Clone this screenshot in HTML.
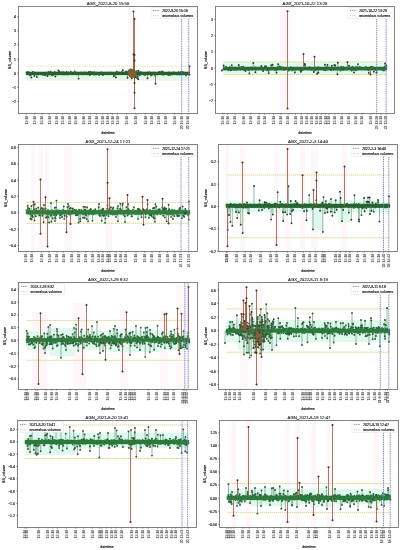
<!DOCTYPE html>
<html><head><meta charset="utf-8"><style>
html,body{margin:0;padding:0;background:#fff;width:403px;height:550px;overflow:hidden}
svg{display:block;will-change:transform}
.t{font-family:"Liberation Sans", sans-serif;font-size:3.5px;fill:#1a1a1a;stroke:#1a1a1a;stroke-width:0.16px}
.ti{font-family:"Liberation Sans", sans-serif;font-size:4.25px;fill:#222;stroke:#222;stroke-width:0.1px}
.th{stroke:#dcd68e;stroke-width:1px;stroke-dasharray:1.4 0.6;fill:none}
.bl{stroke:#7474c8;stroke-width:0.9px;stroke-dasharray:1.1 0.7;fill:none}
.xt{fill:#606060;stroke:#606060;stroke-width:0.14px}
.tk{stroke:#333;stroke-width:0.5px;fill:none}
</style></head><body>
<svg width="403" height="550" viewBox="0 0 403 550">
<rect width="403" height="550" fill="#fff"/>
<clipPath id="cp1"><rect x="18.5" y="6.5" width="179.0" height="107.0"/></clipPath>
<g clip-path="url(#cp1)">
<rect x="128" y="6.5" width="4.0" height="107.0" fill="#fef7fa"/>
<rect x="25.5" y="74.5" width="164.0" height="4.8" fill="#dff9ef"/>
<path d="M26.6 66.2H189.4" class="th" style="stroke:#ebe6b4"/>
<path d="M26.6 79.9H189.4" class="th" style="stroke:#ebe6b4"/>
<path d="M34.4 73.4V76M36.9 73.4V76.9M55.4 73.4V76.6M58.4 73.4V70.4M78.6 73.4V78.6M113.8 73.4V76.2M115.9 73.4V77.4M122.8 73.4V70.2M127.5 73.4V77.8M129.3 73.4V70.2M131.8 73.4V78.2M133.1 73.4V76.3M137.4 73.4V76.2M138.3 73.4V70.6M138.3 73.4V79.2M147.5 73.4V78.3M31.4 73.4V77.6M137 73.4V78" stroke="#4f8c5e" stroke-width="0.6" fill="none"/>
<rect x="25.8" y="71.70" width="164.3" height="3.4" fill="#28602e"/>
<path d="M26.6 72.4h0M27.1 73.7h0M27.5 72.3h0M27.9 73.3h0M28.4 72.4h0M28.8 72.4h0M29.2 74.6h0M29.6 74.2h0M30.1 75.5h0M30.5 73.2h0M30.9 73.5h0M31.4 73.5h0M31.8 73.6h0M32.2 74h0M32.7 72h0M33.1 74h0M33.5 72.2h0M33.9 73.4h0M34.8 73.4h0M35.2 73.2h0M35.7 73.9h0M36.1 73.5h0M36.5 72.6h0M37.4 74.2h0M37.8 72.9h0M38.2 74.4h0M38.7 73.9h0M39.1 74h0M39.5 73.8h0M40 73.8h0M40.4 73.8h0M40.8 73.5h0M41.2 72.9h0M41.7 73.9h0M42.1 74.6h0M42.5 74h0M43 74h0M43.4 74.8h0M43.8 73.1h0M44.2 73.6h0M44.7 74.2h0M45.1 75.3h0M45.5 74.8h0M46 73.5h0M46.4 72.7h0M46.8 74.3h0M47.3 74h0M47.7 72.8h0M48.1 74h0M48.5 72h0M49 72.7h0M49.4 74.6h0M49.8 72.6h0M50.3 73.3h0M50.7 71.5h0M51.1 74.2h0M51.5 72.7h0M52 75.4h0M52.4 73.9h0M52.8 73.3h0M53.3 74.9h0M53.7 74h0M54.1 74.5h0M54.6 71.9h0M55 72.8h0M55.8 73.1h0M56.3 73.5h0M56.7 73h0M57.1 73.2h0M57.6 74.6h0M58 73.3h0M58.8 72.8h0M59.3 71.4h0M59.7 72.1h0M60.1 73.5h0M60.6 74.3h0M61 73.9h0M61.4 73.3h0M61.8 72.2h0M62.3 72.7h0M62.7 74.4h0M63.1 72.2h0M63.6 74.1h0M64 72.8h0M64.4 72.8h0M64.9 74.4h0M65.3 74h0M65.7 73.3h0M66.1 72.6h0M66.6 72h0M67 74h0M67.4 74.5h0M67.9 73.6h0M68.3 73.1h0M68.7 72.5h0M69.1 73.4h0M69.6 73.5h0M70 73.5h0M70.4 73.9h0M70.9 71.8h0M71.3 74h0M71.7 73.7h0M72.2 74.2h0M72.6 74h0M73 72.9h0M73.4 74h0M73.9 74.1h0M74.3 72.9h0M74.7 71.5h0M75.2 72.8h0M75.6 73.6h0M76 72.7h0M76.4 72.7h0M76.9 74.3h0M77.3 73.3h0M77.7 73.6h0M78.2 73.2h0M79 73.2h0M79.5 73.5h0M79.9 73.6h0M80.3 73.6h0M80.7 72.6h0M81.2 72.5h0M81.6 73.2h0M82 72.9h0M82.5 74.3h0M82.9 73.5h0M83.3 73.3h0M83.7 74.1h0M84.2 72.4h0M84.6 72.5h0M85 73.7h0M85.5 73.2h0M85.9 74h0M86.3 74h0M86.7 72.7h0M87.2 74.1h0M87.6 74.2h0M88 73.1h0M88.5 73.1h0M88.9 71.9h0M89.3 73.8h0M89.8 75.1h0M90.2 72h0M90.6 73.1h0M91 73.9h0M91.5 72.8h0M91.9 72.1h0M92.3 73h0M92.8 73.5h0M93.2 73.1h0M93.6 72.7h0M94 74.6h0M94.5 72.1h0M94.9 73.3h0M95.3 74.3h0M95.8 73.1h0M96.2 73.6h0M96.6 74.4h0M97.1 72.8h0M97.5 72.7h0M97.9 73.1h0M98.3 74.1h0M98.8 73.8h0M99.2 74.9h0M99.6 72.9h0M100.1 73.2h0M100.5 73.3h0M100.9 73.3h0M101.3 72.2h0M101.8 74.2h0M102.2 73.3h0M102.6 73.1h0M103.1 75.1h0M103.5 72.9h0M103.9 74h0M104.4 74h0M104.8 72.7h0M105.2 73.5h0M105.6 73.8h0M106.1 73.2h0M106.5 73.6h0M106.9 73.9h0M107.4 72.7h0M107.8 74.3h0M108.2 74.1h0M108.6 74.1h0M109.1 72.6h0M109.5 73.2h0M109.9 72.9h0M110.4 73.3h0M110.8 72.8h0M111.2 72.6h0M111.6 73.8h0M112.1 72.9h0M112.5 74h0M112.9 73h0M113.4 74h0M114.2 73.5h0M114.7 74.7h0M115.1 73.8h0M115.5 72.7h0M116.4 72.7h0M116.8 71.8h0M117.2 72.1h0M117.7 73.4h0M118.1 73.5h0M118.5 73.7h0M118.9 72.5h0M119.4 73.1h0M119.8 73.6h0M120.2 73.9h0M120.7 73.7h0M121.1 73.2h0M121.5 72.1h0M122 73.7h0M122.4 72.6h0M123.2 73h0M123.7 73.3h0M124.1 72.6h0M124.5 73.3h0M125 73.4h0M125.4 73h0M125.8 71.9h0M126.2 71.5h0M126.7 72h0M127.1 73.2h0M128 74.2h0M128.4 71.5h0M128.8 72.2h0M129.7 73.3h0M130.1 72.6h0M130.5 75.3h0M131 73.5h0M131.4 73.9h0M132.3 72h0M132.7 71.2h0M133.5 73.4h0M134 73.8h0M134.4 73.3h0M134.8 73.3h0M135.3 75.4h0M135.7 72.8h0M136.1 74h0M136.5 71.1h0M137 72.7h0M137.8 73.3h0M138.7 71.5h0M139.1 74.6h0M139.6 75.3h0M140 72.9h0M140.4 73.2h0M140.8 72.3h0M141.3 73.2h0M141.7 72.8h0M142.1 72.6h0M142.6 73.4h0M143 73.5h0M143.4 74.1h0M143.8 74.5h0M144.3 73.4h0M144.7 73.1h0M145.1 75h0M145.6 74.2h0M146 74h0M146.4 73.3h0M146.9 73.2h0M147.3 72.5h0M147.7 73.1h0M148.1 73.2h0M148.6 73.5h0M149 73.7h0M149.4 72.3h0M149.9 73.8h0M150.3 72.7h0M150.7 73h0M151.1 75.4h0M151.6 73.4h0M152 74.7h0M152.4 74.5h0M152.9 73h0M153.3 73.9h0M153.7 72.4h0M154.2 72.8h0M154.6 73.4h0M155 75.6h0M155.4 73.7h0M155.9 73.5h0M156.3 73.1h0M156.7 73.1h0M157.2 74.4h0M157.6 74h0M158 72.8h0M158.4 74.1h0M158.9 73.4h0M159.3 71.9h0M159.7 73.8h0M160.2 72.4h0M160.6 72.9h0M161 73.7h0M161.4 72h0M161.9 71.4h0M162.3 73.4h0M162.7 71.6h0M163.2 74.7h0M163.6 74.3h0M164 72.6h0M164.5 73h0M164.9 73.5h0M165.3 73.1h0M165.7 74h0M166.2 73.7h0M166.6 73.3h0M167 73.8h0M167.5 73.1h0M167.9 73.7h0M168.3 75.1h0M168.7 72.5h0M169.2 73.6h0M169.6 72.8h0M170 75h0M170.5 72.7h0M170.9 72.9h0M171.3 74h0M171.8 73.7h0M172.2 74.4h0M172.6 73.9h0M173 72.5h0M173.5 73.9h0M173.9 73h0M174.3 72.4h0M174.8 73.1h0M175.2 73.5h0M175.6 73.1h0M176 73.7h0M176.5 73.6h0M176.9 74.4h0M177.3 74h0M177.8 73h0M178.2 72.9h0M178.6 72.1h0M179.1 73.2h0M179.5 74.6h0M179.9 73.2h0M180.3 73.2h0M180.8 72.2h0M181.2 73.9h0M181.6 72.3h0M182.1 74.2h0M182.5 72h0M182.9 72.2h0M183.3 73.2h0M183.8 73h0M184.2 73.6h0M184.6 73.1h0M185.1 73.7h0M185.5 72.8h0M185.9 75.4h0M186.4 74.3h0M186.8 74.2h0M187.2 74.2h0M187.6 73.7h0M188.1 73.8h0M188.5 73.5h0M188.9 73.5h0M189.4 74.7h0" stroke="#28602e" stroke-width="1.90" stroke-linecap="round" fill="none"/>
<path d="M34.4 76h0M36.9 76.9h0M55.4 76.6h0M58.4 70.4h0M78.6 78.6h0M113.8 76.2h0M115.9 77.4h0M122.8 70.2h0M127.5 77.8h0M129.3 70.2h0M131.8 78.2h0M133.1 76.3h0M137.4 76.2h0M138.3 70.6h0M138.3 79.2h0M147.5 78.3h0M31.4 77.6h0M137 78h0" stroke="#263d2b" stroke-width="1.90" stroke-linecap="round" fill="none"/>
<path d="M133.5 73.4V11.5M133.5 73.4V54.4M134.5 73.4V18.9M134.5 73.4V55M134.5 73.4V60.6M134.5 73.4V108.3M134.5 73.4V92.8M134.5 73.4V82.9M132.5 73.4V76.5M130.5 73.4V69.5M135.5 73.4V77M155.5 73.4V83.8M47.5 73.4V76M189.5 73.4V66.2" stroke="#985540" stroke-width="0.8" fill="none"/>
<path d="M133.5 11.5h0M133.5 54.4h0M134.5 18.9h0M134.5 55h0M134.5 60.6h0M134.5 108.3h0M134.5 92.8h0M134.5 82.9h0M132.5 76.5h0M130.5 69.5h0M135.5 77h0M155.5 83.8h0M47.5 76h0M189.5 66.2h0" stroke="#4a2a1e" stroke-width="2.0" stroke-linecap="round" fill="none"/>
<ellipse cx="132.2" cy="73.4" rx="4.3" ry="4.6" fill="#7a6038"/>
<ellipse cx="132.6" cy="73.4" rx="2.5" ry="3.6" fill="#8a5a30"/>
<path d="M181.7 6.5V113.5" class="bl"/>
<path d="M188.7 6.5V113.5" class="bl"/>
</g>
<rect x="18.5" y="6.5" width="179.0" height="107.0" fill="none" stroke="#777" stroke-width="0.9"/>
<path d="M17.2 16.6H18.5" class="tk"/><text x="16.0" y="18.0" text-anchor="end" class="t">4</text>
<path d="M17.2 30.8H18.5" class="tk"/><text x="16.0" y="32.1" text-anchor="end" class="t">3</text>
<path d="M17.2 44.9H18.5" class="tk"/><text x="16.0" y="46.3" text-anchor="end" class="t">2</text>
<path d="M17.2 59.1H18.5" class="tk"/><text x="16.0" y="60.5" text-anchor="end" class="t">1</text>
<path d="M17.2 73.2H18.5" class="tk"/><text x="16.0" y="74.6" text-anchor="end" class="t">0</text>
<path d="M17.2 87.4H18.5" class="tk"/><text x="16.0" y="88.8" text-anchor="end" class="t">−1</text>
<path d="M17.2 101.5H18.5" class="tk"/><text x="16.0" y="102.9" text-anchor="end" class="t">−2</text>
<path d="M26.3 113.5v1.3" class="tk"/><text transform="translate(27.6,115.7) rotate(-90)" text-anchor="end" class="t xt">15:18</text>
<path d="M34.8 113.5v1.3" class="tk"/><text transform="translate(36.0,115.7) rotate(-90)" text-anchor="end" class="t xt">15:18</text>
<path d="M41.9 113.5v1.3" class="tk"/><text transform="translate(43.1,115.7) rotate(-90)" text-anchor="end" class="t xt">15:18</text>
<path d="M49.2 113.5v1.3" class="tk"/><text transform="translate(50.5,115.7) rotate(-90)" text-anchor="end" class="t xt">15:18</text>
<path d="M56.3 113.5v1.3" class="tk"/><text transform="translate(57.5,115.7) rotate(-90)" text-anchor="end" class="t xt">15:18</text>
<path d="M62.6 113.5v1.3" class="tk"/><text transform="translate(63.9,115.7) rotate(-90)" text-anchor="end" class="t xt">15:18</text>
<path d="M69.2 113.5v1.3" class="tk"/><text transform="translate(70.5,115.7) rotate(-90)" text-anchor="end" class="t xt">15:18</text>
<path d="M75.6 113.5v1.3" class="tk"/><text transform="translate(76.8,115.7) rotate(-90)" text-anchor="end" class="t xt">15:18</text>
<path d="M83.4 113.5v1.3" class="tk"/><text transform="translate(84.7,115.7) rotate(-90)" text-anchor="end" class="t xt">15:18</text>
<path d="M90 113.5v1.3" class="tk"/><text transform="translate(91.2,115.7) rotate(-90)" text-anchor="end" class="t xt">15:18</text>
<path d="M96.4 113.5v1.3" class="tk"/><text transform="translate(97.7,115.7) rotate(-90)" text-anchor="end" class="t xt">15:18</text>
<path d="M102.6 113.5v1.3" class="tk"/><text transform="translate(103.8,115.7) rotate(-90)" text-anchor="end" class="t xt">15:18</text>
<path d="M107.4 113.5v1.3" class="tk"/><text transform="translate(108.7,115.7) rotate(-90)" text-anchor="end" class="t xt">15:18</text>
<path d="M112.4 113.5v1.3" class="tk"/><text transform="translate(113.7,115.7) rotate(-90)" text-anchor="end" class="t xt">15:18</text>
<path d="M117.4 113.5v1.3" class="tk"/><text transform="translate(118.7,115.7) rotate(-90)" text-anchor="end" class="t xt">15:18</text>
<path d="M126.5 113.5v1.3" class="tk"/><text transform="translate(127.8,115.7) rotate(-90)" text-anchor="end" class="t xt">15:18</text>
<path d="M136 113.5v1.3" class="tk"/><text transform="translate(137.2,115.7) rotate(-90)" text-anchor="end" class="t xt">15:18</text>
<path d="M145.4 113.5v1.3" class="tk"/><text transform="translate(146.7,115.7) rotate(-90)" text-anchor="end" class="t xt">15:18</text>
<path d="M152.1 113.5v1.3" class="tk"/><text transform="translate(153.3,115.7) rotate(-90)" text-anchor="end" class="t xt">15:18</text>
<path d="M158.8 113.5v1.3" class="tk"/><text transform="translate(160.1,115.7) rotate(-90)" text-anchor="end" class="t xt">15:18</text>
<path d="M165.3 113.5v1.3" class="tk"/><text transform="translate(166.6,115.7) rotate(-90)" text-anchor="end" class="t xt">15:18</text>
<path d="M174.4 113.5v1.3" class="tk"/><text transform="translate(175.7,115.7) rotate(-90)" text-anchor="end" class="t xt">15:18</text>
<path d="M181.4 113.5v1.3" class="tk"/><text transform="translate(182.7,115.7) rotate(-90)" text-anchor="end" class="t xt">20 15:16</text>
<path d="M188.1 113.5v1.3" class="tk"/><text transform="translate(189.3,115.7) rotate(-90)" text-anchor="end" class="t xt">20 15:18</text>
<text x="108.0" y="4.6" text-anchor="middle" class="ti">AGX_2022-8-20 15:56</text>
<text x="108.0" y="133.5" text-anchor="middle" class="t">datetime</text>
<text transform="translate(10.6,60.0) rotate(-90)" text-anchor="middle" class="t">BS_volume</text>
<rect x="150.9" y="7.5" width="45.3" height="10.9" fill="#fff" fill-opacity="0.95" stroke="#d8d8d8" stroke-width="0.4" rx="0.8"/>
<path d="M152.9 10.4h6.2" class="bl"/><path d="M152.9 15.7h6.2" class="th"/>
<text x="162.2" y="11.7" class="t">2022-8-20 15:16</text>
<text x="162.2" y="16.9" class="t">anomalous volumes</text>
<clipPath id="cp2"><rect x="215.5" y="6.5" width="179.0" height="107.0"/></clipPath>
<g clip-path="url(#cp2)">
<rect x="280" y="6.5" width="10.3" height="107.0" fill="#fef7fa"/>
<rect x="223" y="62.3" width="163.5" height="11.9" fill="#dff9ef"/>
<path d="M223.6 61.9H386.4" class="th" style="stroke:#dcd68e"/>
<path d="M223.6 74.5H386.4" class="th" style="stroke:#dcd68e"/>
<path d="M223.6 68.6V65.5M231.8 68.6V65.1M238.7 68.6V65M245.5 68.6V71.1M249.4 68.6V73.4M253.3 68.6V63M255.4 68.6V72.2M261.4 68.6V66M263.1 68.6V71M268.7 68.6V73.1M271.3 68.6V65.3M272.6 68.6V64.8M276.5 68.6V72.7M278.2 68.6V64.3M294.9 68.6V72.4M300.9 68.6V71.7M304.8 68.6V63.9M313.8 68.6V72M317.2 68.6V73.7M327.5 68.6V64.9M331.8 68.6V65.8M334.4 68.6V65M335.3 68.6V65.4M337.4 68.6V74.2M349 68.6V65.8M358 68.6V64.1M368.8 68.6V72.9M373.9 68.6V71.7M385.1 68.6V63.5M386.4 68.6V65.4M354 68.6V72.6M325 68.6V64.8M266 68.6V66.5M337.8 68.6V62.8M318.4 68.6V72.6M305 68.6V65M222 68.6V70.5" stroke="#4f8c5e" stroke-width="0.6" fill="none"/>
<rect x="222.8" y="66.80" width="164.3" height="3.6" fill="#2a6e34"/>
<path d="M224.1 68.8h0M224.5 69.1h0M224.9 69.2h0M225.4 68.1h0M225.8 66.7h0M226.2 67.2h0M226.6 68.5h0M227.1 68.3h0M227.5 68.4h0M227.9 69.2h0M228.4 70.2h0M228.8 67.9h0M229.2 68.2h0M229.7 67.3h0M230.1 67.9h0M230.5 70.2h0M230.9 69.8h0M231.4 70.1h0M232.2 67.4h0M232.7 68.6h0M233.1 69.3h0M233.5 68.2h0M233.9 68.2h0M234.4 69.9h0M234.8 68h0M235.2 67.5h0M235.7 67.9h0M236.1 69.4h0M236.5 69.7h0M237 68.2h0M237.4 69.1h0M237.8 68.2h0M238.2 68.2h0M239.1 67.2h0M239.5 68.5h0M240 68.3h0M240.4 69.6h0M240.8 68.1h0M241.2 67.3h0M241.7 68.4h0M242.1 67h0M242.5 68.9h0M243 69h0M243.4 66.8h0M243.8 69.8h0M244.3 68.7h0M244.7 69.3h0M245.1 70h0M246 69.3h0M246.4 68.8h0M246.8 69.4h0M247.3 68.5h0M247.7 69h0M248.1 67.7h0M248.5 70h0M249 69.5h0M249.8 68.7h0M250.3 68.4h0M250.7 67.5h0M251.1 68.6h0M251.6 69h0M252 69.7h0M252.4 67.7h0M252.8 68.4h0M253.7 68.6h0M254.1 69h0M254.6 68h0M255 67.5h0M255.8 68.1h0M256.3 69.6h0M256.7 67.8h0M257.1 68h0M257.6 68.5h0M258 69.2h0M258.4 67.6h0M258.8 69.2h0M259.3 68.5h0M259.7 68.7h0M260.1 67.6h0M260.6 68.8h0M261 68.9h0M261.9 68.3h0M262.3 69.5h0M262.7 67.6h0M263.6 68.9h0M264 68.8h0M264.4 68.2h0M264.9 66.2h0M265.3 68.5h0M265.7 67.4h0M266.1 67.5h0M266.6 70.1h0M267 68h0M267.4 68.1h0M267.9 67.9h0M268.3 70.7h0M269.2 69.3h0M269.6 69.1h0M270 69.6h0M270.4 68.9h0M270.9 67.8h0M271.7 67.9h0M272.2 68.5h0M273 68.8h0M273.4 68.2h0M273.9 68.2h0M274.3 68.6h0M274.7 69.7h0M275.2 67.9h0M275.6 70.1h0M276 69.1h0M276.9 69.2h0M277.3 69.5h0M277.7 67.2h0M278.6 68.2h0M279 67.7h0M279.5 66.4h0M279.9 68h0M280.3 68.4h0M280.7 66.9h0M281.2 68h0M281.6 68.7h0M282 67.9h0M282.5 67.4h0M282.9 68h0M283.3 67.5h0M283.7 70h0M284.2 68h0M284.6 68.3h0M285 68.6h0M285.5 68.3h0M285.9 68.7h0M286.3 68.1h0M286.8 68.7h0M287.2 69.1h0M287.6 68.6h0M288 68.7h0M288.5 69.9h0M288.9 70.6h0M289.3 69.4h0M289.8 69.2h0M290.2 69.6h0M290.6 69.2h0M291 67.1h0M291.5 69.1h0M291.9 69.4h0M292.3 70.4h0M292.8 70.3h0M293.2 69.4h0M293.6 68h0M294.1 68h0M294.5 68.8h0M295.3 68.4h0M295.8 69.7h0M296.2 68.1h0M296.6 68h0M297.1 68.5h0M297.5 67.7h0M297.9 68.9h0M298.3 69.2h0M298.8 67.8h0M299.2 68.8h0M299.6 68h0M300.1 70.4h0M300.5 69.1h0M301.4 68.5h0M301.8 70.3h0M302.2 68.1h0M302.6 70h0M303.1 69.6h0M303.5 69.2h0M303.9 68.3h0M304.4 68.9h0M305.2 69h0M305.6 67.5h0M306.1 69.2h0M306.5 68.7h0M306.9 68.8h0M307.4 68.2h0M307.8 68.7h0M308.2 69.5h0M308.6 68.2h0M309.1 68h0M309.5 67.1h0M309.9 69.3h0M310.4 69.2h0M310.8 69.2h0M311.2 67.6h0M311.7 69.8h0M312.1 68.3h0M312.5 69.5h0M312.9 68.7h0M313.4 69.2h0M314.2 68.2h0M314.7 68.4h0M315.1 70.2h0M315.5 68.6h0M315.9 67.5h0M316.4 68.7h0M316.8 67.9h0M317.7 69h0M318.1 67.5h0M318.5 68.2h0M319 67.4h0M319.4 67.7h0M319.8 68.4h0M320.2 68.5h0M320.7 68.3h0M321.1 68.9h0M321.5 69h0M322 68.9h0M322.4 68h0M322.8 69.1h0M323.2 68.2h0M323.7 69.9h0M324.1 68.2h0M324.5 69.3h0M325 68.4h0M325.4 70.3h0M325.8 70.1h0M326.3 69.3h0M326.7 67.2h0M327.1 69.5h0M328 68.8h0M328.4 68.2h0M328.8 68.8h0M329.3 67.4h0M329.7 68.7h0M330.1 67.9h0M330.5 69.5h0M331 70.3h0M331.4 67.9h0M332.3 67.9h0M332.7 67.8h0M333.1 69.2h0M333.5 69.9h0M334 67.7h0M334.8 68.6h0M335.7 69.6h0M336.1 67.7h0M336.6 69.2h0M337 68.8h0M337.8 69.4h0M338.3 68.6h0M338.7 67.4h0M339.1 68.9h0M339.6 68.9h0M340 67.9h0M340.4 70.5h0M340.8 68.5h0M341.3 66.6h0M341.7 69h0M342.1 69.7h0M342.6 68.8h0M343 69.9h0M343.4 66.9h0M343.9 69.2h0M344.3 68.7h0M344.7 69.5h0M345.1 68.3h0M345.6 69.3h0M346 67.6h0M346.4 67.6h0M346.9 69.3h0M347.3 69.3h0M347.7 68.2h0M348.1 68.5h0M348.6 68.8h0M349.4 68.1h0M349.9 67.5h0M350.3 67.9h0M350.7 69.4h0M351.2 68.7h0M351.6 70.5h0M352 68.4h0M352.4 66.8h0M352.9 67.9h0M353.3 69.7h0M353.7 67.8h0M354.2 69.6h0M354.6 69.4h0M355 68.1h0M355.4 67.1h0M355.9 70.2h0M356.3 68.3h0M356.7 67.5h0M357.2 67.2h0M357.6 69.3h0M358.4 69.3h0M358.9 68h0M359.3 68.9h0M359.7 67h0M360.2 68.7h0M360.6 67.8h0M361 67.7h0M361.5 69.2h0M361.9 68.5h0M362.3 68.3h0M362.7 67.6h0M363.2 68.7h0M363.6 68.4h0M364 68.8h0M364.5 68.2h0M364.9 68.1h0M365.3 69.5h0M365.7 67.3h0M366.2 67.3h0M366.6 67.8h0M367 68.9h0M367.5 69.4h0M367.9 67.8h0M368.3 70h0M369.2 67.7h0M369.6 69.3h0M370 69h0M370.5 67.3h0M370.9 68.8h0M371.3 66.6h0M371.8 68.5h0M372.2 66.9h0M372.6 68.6h0M373 67.6h0M373.5 67.5h0M374.3 68.3h0M374.8 68h0M375.2 69.1h0M375.6 69.6h0M376.1 67.8h0M376.5 70.1h0M376.9 67.9h0M377.3 69.4h0M377.8 68.6h0M378.2 68.3h0M378.6 69h0M379.1 68.1h0M379.5 67.6h0M379.9 69h0M380.3 68.1h0M380.8 68.6h0M381.2 68.6h0M381.6 69h0M382.1 68.5h0M382.5 69.9h0M382.9 69.2h0M383.4 69.6h0M383.8 70.6h0M384.2 70h0M384.6 66.8h0M385.5 68h0M385.9 68.6h0" stroke="#2a6e34" stroke-width="1.90" stroke-linecap="round" fill="none"/>
<path d="M223.6 65.5h0M231.8 65.1h0M238.7 65h0M245.5 71.1h0M249.4 73.4h0M253.3 63h0M255.4 72.2h0M261.4 66h0M263.1 71h0M268.7 73.1h0M271.3 65.3h0M272.6 64.8h0M276.5 72.7h0M278.2 64.3h0M294.9 72.4h0M300.9 71.7h0M304.8 63.9h0M313.8 72h0M317.2 73.7h0M327.5 64.9h0M331.8 65.8h0M334.4 65h0M335.3 65.4h0M337.4 74.2h0M349 65.8h0M358 64.1h0M368.8 72.9h0M373.9 71.7h0M385.1 63.5h0M386.4 65.4h0M354 72.6h0M325 64.8h0M266 66.5h0M337.8 62.8h0M318.4 72.6h0M305 65h0M222 70.5h0" stroke="#263d2b" stroke-width="1.90" stroke-linecap="round" fill="none"/>
<path d="M287.5 68.6V11.3M287.5 68.6V108.4M303.5 68.6V54.1M314.5 68.6V56.8M347.5 68.6V62.3M370.5 68.6V74.4M376.5 68.6V72.7" stroke="#985540" stroke-width="0.8" fill="none"/>
<path d="M287.5 11.3h0M287.5 108.4h0M303.5 54.1h0M314.5 56.8h0M347.5 62.3h0M370.5 74.4h0M376.5 72.7h0" stroke="#4a2a1e" stroke-width="2.0" stroke-linecap="round" fill="none"/>
<path d="M376.7 6.5V113.5" class="bl"/>
<path d="M386.1 6.5V113.5" class="bl"/>
</g>
<rect x="215.5" y="6.5" width="179.0" height="107.0" fill="none" stroke="#777" stroke-width="0.9"/>
<path d="M214.2 19.3H215.5" class="tk"/><text x="213.0" y="20.7" text-anchor="end" class="t">3</text>
<path d="M214.2 35.6H215.5" class="tk"/><text x="213.0" y="37.0" text-anchor="end" class="t">2</text>
<path d="M214.2 51.9H215.5" class="tk"/><text x="213.0" y="53.3" text-anchor="end" class="t">1</text>
<path d="M214.2 68.2H215.5" class="tk"/><text x="213.0" y="69.6" text-anchor="end" class="t">0</text>
<path d="M214.2 84.5H215.5" class="tk"/><text x="213.0" y="85.9" text-anchor="end" class="t">−1</text>
<path d="M214.2 100.8H215.5" class="tk"/><text x="213.0" y="102.2" text-anchor="end" class="t">−2</text>
<path d="M223 113.5v1.3" class="tk"/><text transform="translate(224.2,115.7) rotate(-90)" text-anchor="end" class="t xt">15:18</text>
<path d="M227.5 113.5v1.3" class="tk"/><text transform="translate(228.8,115.7) rotate(-90)" text-anchor="end" class="t xt">15:18</text>
<path d="M235.1 113.5v1.3" class="tk"/><text transform="translate(236.3,115.7) rotate(-90)" text-anchor="end" class="t xt">15:18</text>
<path d="M243.6 113.5v1.3" class="tk"/><text transform="translate(244.8,115.7) rotate(-90)" text-anchor="end" class="t xt">15:18</text>
<path d="M250.7 113.5v1.3" class="tk"/><text transform="translate(251.9,115.7) rotate(-90)" text-anchor="end" class="t xt">15:18</text>
<path d="M259.2 113.5v1.3" class="tk"/><text transform="translate(260.4,115.7) rotate(-90)" text-anchor="end" class="t xt">15:18</text>
<path d="M264.6 113.5v1.3" class="tk"/><text transform="translate(265.9,115.7) rotate(-90)" text-anchor="end" class="t xt">15:18</text>
<path d="M273.5 113.5v1.3" class="tk"/><text transform="translate(274.8,115.7) rotate(-90)" text-anchor="end" class="t xt">15:18</text>
<path d="M280.8 113.5v1.3" class="tk"/><text transform="translate(282.1,115.7) rotate(-90)" text-anchor="end" class="t xt">15:18</text>
<path d="M288.2 113.5v1.3" class="tk"/><text transform="translate(289.4,115.7) rotate(-90)" text-anchor="end" class="t xt">15:18</text>
<path d="M295.4 113.5v1.3" class="tk"/><text transform="translate(296.6,115.7) rotate(-90)" text-anchor="end" class="t xt">15:18</text>
<path d="M301.4 113.5v1.3" class="tk"/><text transform="translate(302.6,115.7) rotate(-90)" text-anchor="end" class="t xt">15:18</text>
<path d="M307.1 113.5v1.3" class="tk"/><text transform="translate(308.4,115.7) rotate(-90)" text-anchor="end" class="t xt">15:18</text>
<path d="M311.8 113.5v1.3" class="tk"/><text transform="translate(313.1,115.7) rotate(-90)" text-anchor="end" class="t xt">15:18</text>
<path d="M316.5 113.5v1.3" class="tk"/><text transform="translate(317.8,115.7) rotate(-90)" text-anchor="end" class="t xt">15:18</text>
<path d="M321.2 113.5v1.3" class="tk"/><text transform="translate(322.4,115.7) rotate(-90)" text-anchor="end" class="t xt">15:18</text>
<path d="M325.5 113.5v1.3" class="tk"/><text transform="translate(326.8,115.7) rotate(-90)" text-anchor="end" class="t xt">15:18</text>
<path d="M329 113.5v1.3" class="tk"/><text transform="translate(330.2,115.7) rotate(-90)" text-anchor="end" class="t xt">15:18</text>
<path d="M334.9 113.5v1.3" class="tk"/><text transform="translate(336.1,115.7) rotate(-90)" text-anchor="end" class="t xt">15:18</text>
<path d="M342 113.5v1.3" class="tk"/><text transform="translate(343.2,115.7) rotate(-90)" text-anchor="end" class="t xt">15:18</text>
<path d="M349 113.5v1.3" class="tk"/><text transform="translate(350.2,115.7) rotate(-90)" text-anchor="end" class="t xt">15:18</text>
<path d="M356.1 113.5v1.3" class="tk"/><text transform="translate(357.4,115.7) rotate(-90)" text-anchor="end" class="t xt">15:18</text>
<path d="M361.8 113.5v1.3" class="tk"/><text transform="translate(363.1,115.7) rotate(-90)" text-anchor="end" class="t xt">15:18</text>
<path d="M370.8 113.5v1.3" class="tk"/><text transform="translate(372.1,115.7) rotate(-90)" text-anchor="end" class="t xt">15:18</text>
<path d="M376.4 113.5v1.3" class="tk"/><text transform="translate(377.6,115.7) rotate(-90)" text-anchor="end" class="t xt">22 13:28</text>
<path d="M381 113.5v1.3" class="tk"/><text transform="translate(382.2,115.7) rotate(-90)" text-anchor="end" class="t xt">15:18</text>
<path d="M386.1 113.5v1.3" class="tk"/><text transform="translate(387.4,115.7) rotate(-90)" text-anchor="end" class="t xt">22 13:30</text>
<text x="305.0" y="4.6" text-anchor="middle" class="ti">AGX_2021-10-22 13:28</text>
<text x="305.0" y="133.5" text-anchor="middle" class="t">datetime</text>
<text transform="translate(206.9,60.0) rotate(-90)" text-anchor="middle" class="t">BS_volume</text>
<rect x="347.9" y="7.5" width="45.3" height="10.9" fill="#fff" fill-opacity="0.95" stroke="#d8d8d8" stroke-width="0.4" rx="0.8"/>
<path d="M349.9 10.4h6.2" class="bl"/><path d="M349.9 15.7h6.2" class="th"/>
<text x="359.2" y="11.7" class="t">2021-10-22 13:28</text>
<text x="359.2" y="16.9" class="t">anomalous volumes</text>
<clipPath id="cp3"><rect x="18.5" y="144.5" width="179.0" height="107.0"/></clipPath>
<g clip-path="url(#cp3)">
<rect x="31" y="144.5" width="4.0" height="107.0" fill="#fef7fa"/>
<rect x="38" y="144.5" width="5.0" height="107.0" fill="#fef7fa"/>
<rect x="45" y="144.5" width="4.0" height="107.0" fill="#fef7fa"/>
<rect x="64" y="144.5" width="8.0" height="107.0" fill="#fef7fa"/>
<rect x="105" y="144.5" width="7.0" height="107.0" fill="#fef7fa"/>
<rect x="27" y="209.5" width="162.0" height="7.0" fill="#dff9ef"/>
<path d="M26.6 202.4H189.4" class="th" style="stroke:#dcd68e"/>
<path d="M26.6 223.3H189.4" class="th" style="stroke:#dcd68e"/>
<path d="M27.7 212.3V205.7M29.4 212.3V208.8M30.4 212.3V218.6M31.1 212.3V219.4M31.4 212.3V206M31.7 212.3V219.2M32.1 212.3V215.7M32.8 212.3V217M33.4 212.3V204.8M34.1 212.3V209.4M34.5 212.3V220.5M34.8 212.3V204.2M35.8 212.3V216.2M36.2 212.3V208.6M38.2 212.3V207.5M39.2 212.3V215.4M39.9 212.3V215.4M40.6 212.3V209M41.9 212.3V208M42.3 212.3V215.8M42.9 212.3V209M43.3 212.3V209.1M43.6 212.3V222.3M45.3 212.3V208.9M45.7 212.3V208.6M46 212.3V217.8M47 212.3V216.7M48.4 212.3V217.4M49.1 212.3V222.5M50.8 212.3V215.7M51.1 212.3V215.3M51.4 212.3V221.8M52.8 212.3V218.5M54.8 212.3V207.8M55.2 212.3V217.8M55.5 212.3V218.4M55.9 212.3V207.4M56.2 212.3V215.4M56.5 212.3V200.6M60.3 212.3V215.3M62 212.3V217M63.7 212.3V206.5M64.3 212.3V218.9M64.7 212.3V215.7M66.7 212.3V216.7M67.4 212.3V207.1M68.8 212.3V206.2M69.8 212.3V208.6M70.8 212.3V207.9M72.5 212.3V208.8M72.8 212.3V208.5M75.9 212.3V215.3M77.6 212.3V215.1M78.6 212.3V222.5M79 212.3V209.6M80 212.3V218.9M80.3 212.3V221.2M83 212.3V217.8M83.4 212.3V206.6M84.7 212.3V218M85.1 212.3V209.6M86.1 212.3V215.4M86.8 212.3V219.3M87.1 212.3V207.2M88.1 212.3V221.4M90.8 212.3V209M92.5 212.3V220.7M95.3 212.3V209.2M98.7 212.3V207.3M99 212.3V204M99.7 212.3V215.3M100 212.3V216M101.7 212.3V220.7M102.4 212.3V209.3M102.7 212.3V215.4M103.4 212.3V208.8M103.8 212.3V216M104.1 212.3V215.5M105.1 212.3V222.7M105.5 212.3V218.8M107.2 212.3V208.7M107.5 212.3V205.3M108.5 212.3V216.2M109.5 212.3V208.4M110.9 212.3V207.2M112.9 212.3V208.7M113.3 212.3V207.4M116 212.3V216.9M117.3 212.3V208.3M118 212.3V221.2M120.1 212.3V208.8M120.4 212.3V203.8M122.4 212.3V205.1M122.8 212.3V203.5M124.8 212.3V216.4M126.2 212.3V207.1M127.5 212.3V215.6M128.2 212.3V204.2M128.6 212.3V209.3M131.6 212.3V216.4M131.9 212.3V216.4M134 212.3V207.2M137.7 212.3V209.2M138.1 212.3V218.9M138.7 212.3V208.8M139.4 212.3V209.6M141.5 212.3V217.2M142.8 212.3V208.8M145.5 212.3V217.2M147.2 212.3V208.9M147.6 212.3V204.1M148.9 212.3V217.7M150.6 212.3V215.1M151.3 212.3V215M151.7 212.3V216.2M153 212.3V208.2M153.3 212.3V217.4M154 212.3V218.2M154.4 212.3V207.8M154.7 212.3V218.5M155 212.3V221.8M155.4 212.3V204.2M156.4 212.3V206.5M158.4 212.3V209.5M159.8 212.3V209.3M162.2 212.3V207.5M163.2 212.3V215.8M163.5 212.3V208.7M163.9 212.3V209.5M164.6 212.3V207.5M164.9 212.3V217.5M165.2 212.3V209.4M166.3 212.3V208.7M166.6 212.3V221.3M168.6 212.3V204.8M169.3 212.3V209.3M171 212.3V217.1M174.4 212.3V216.1M177.5 212.3V216.3M177.8 212.3V215.6M179.2 212.3V215.9M179.5 212.3V208.5M179.8 212.3V208.4M180.2 212.3V207.8M181.9 212.3V218.2M182.6 212.3V206.4M183.2 212.3V215.7M184.3 212.3V216.9M185.3 212.3V208.9M188.3 212.3V215.4M188.7 212.3V219.7M189 212.3V201.4M44 212.3V205M51 212.3V203M60 212.3V218M68 212.3V204M85 212.3V207M102 212.3V210M118 212.3V206M125 212.3V222M138 212.3V209M144 212.3V210M150 212.3V215M173 212.3V219M180 212.3V209M28 212.3V208M55 212.3V221" stroke="#4f8c5e" stroke-width="0.6" fill="none"/>
<rect x="25.8" y="210.20" width="164.3" height="4.2" fill="#2f7f3b"/>
<path d="M26.6 210.1h0M27 211.3h0M27.3 210.2h0M28 210.9h0M28.3 210.5h0M28.7 212h0M29 211.8h0M29.7 210.5h0M30 214.2h0M30.7 212.1h0M32.4 213h0M33.1 213.6h0M33.8 212.8h0M35.1 212.5h0M35.5 210.9h0M36.5 210.4h0M36.8 211h0M37.2 212.2h0M37.5 212h0M37.9 212.3h0M38.5 211.3h0M38.9 211.3h0M39.6 211.6h0M40.2 210.8h0M40.9 212.1h0M41.3 212.4h0M41.6 213h0M42.6 214h0M44 212.7h0M44.3 212.4h0M44.6 213.1h0M45 212.1h0M46.3 211.2h0M46.7 214h0M47.4 211.5h0M47.7 212.8h0M48 209.9h0M48.7 213.7h0M49.4 211.3h0M49.7 213.2h0M50.1 213.3h0M50.4 212.6h0M51.8 212.9h0M52.1 210.3h0M52.5 212.8h0M53.1 211.1h0M53.5 211.7h0M53.8 215h0M54.2 212.5h0M54.5 214.8h0M56.9 212.1h0M57.2 210.6h0M57.6 213.8h0M57.9 210.3h0M58.2 212.4h0M58.6 211h0M58.9 211.9h0M59.3 212.4h0M59.6 213.6h0M59.9 211.3h0M60.6 212.7h0M61 211.2h0M61.3 212.4h0M61.6 214.6h0M62.3 211h0M62.7 211.9h0M63 210h0M63.3 210.1h0M64 212.6h0M65 210.7h0M65.4 212.2h0M65.7 212.6h0M66 212.4h0M66.4 211.7h0M67.1 213.2h0M67.7 211.3h0M68.1 213.3h0M68.4 211.1h0M69.1 211.6h0M69.4 214.5h0M70.1 213.3h0M70.5 213h0M71.1 213.7h0M71.5 213.7h0M71.8 212h0M72.2 213.3h0M73.2 210.7h0M73.5 211.8h0M73.9 210.2h0M74.2 210.6h0M74.5 209.8h0M74.9 209.9h0M75.2 212.8h0M75.6 210.8h0M76.2 210h0M76.6 211.7h0M76.9 214.7h0M77.3 213h0M77.9 212.8h0M78.3 212.9h0M79.3 211.5h0M79.6 211.2h0M80.7 212.2h0M81 212.9h0M81.3 209.7h0M81.7 211.7h0M82 211.8h0M82.4 212.2h0M82.7 213.9h0M83.7 213.2h0M84.1 214h0M84.4 209.9h0M85.4 214h0M85.8 212.2h0M86.4 210.7h0M87.4 212.1h0M87.8 212.8h0M88.5 213.5h0M88.8 214.4h0M89.1 210.8h0M89.5 209.9h0M89.8 212.5h0M90.2 213.3h0M90.5 209.7h0M91.2 213h0M91.5 213.9h0M91.9 212.5h0M92.2 212.3h0M92.9 212.6h0M93.2 210.5h0M93.6 214.3h0M93.9 212.5h0M94.2 213.3h0M94.6 211.4h0M94.9 213.5h0M95.6 211h0M95.9 212.5h0M96.3 211.4h0M96.6 211.9h0M97 212.4h0M97.3 212.3h0M97.6 211.6h0M98 212.2h0M98.3 211.3h0M99.3 214.9h0M100.4 210.4h0M100.7 210.7h0M101 212.9h0M101.4 210.6h0M102.1 211.1h0M103.1 210.8h0M104.4 213.5h0M104.8 211.6h0M105.8 211.7h0M106.1 213.6h0M106.5 213.8h0M106.8 214.9h0M107.8 210.3h0M108.2 210.2h0M108.8 213.4h0M109.2 213.2h0M109.9 209.9h0M110.2 210.5h0M110.5 213.9h0M111.2 210.8h0M111.6 212h0M111.9 213.9h0M112.2 212.4h0M112.6 214.6h0M113.6 211.9h0M113.9 213h0M114.3 214.6h0M114.6 210.7h0M115 214h0M115.3 211.8h0M115.6 213.6h0M116.3 212.7h0M116.7 211.3h0M117 214.6h0M117.7 212.6h0M118.4 210.5h0M118.7 212.7h0M119 213.2h0M119.4 211.8h0M119.7 210.6h0M120.7 213.6h0M121.1 209.7h0M121.4 213.5h0M121.8 212.2h0M122.1 213h0M123.1 211.1h0M123.5 214.9h0M123.8 211.6h0M124.1 212.5h0M124.5 210.8h0M125.2 212.4h0M125.5 212.6h0M125.8 211h0M126.5 211.7h0M126.9 213h0M127.2 210.3h0M127.9 213.5h0M128.9 214.3h0M129.2 213.3h0M129.6 213.1h0M129.9 211.2h0M130.2 211.2h0M130.6 210.7h0M130.9 211.3h0M131.3 214.2h0M132.3 212.1h0M132.6 212.3h0M133 209.8h0M133.3 212.3h0M133.6 212.1h0M134.3 213.8h0M134.7 213.1h0M135 211.7h0M135.3 211.5h0M135.7 210.6h0M136 213.9h0M136.4 213h0M136.7 213.8h0M137 211.9h0M137.4 213.7h0M138.4 213.8h0M139.1 210.8h0M139.8 213.6h0M140.1 210.2h0M140.4 212.8h0M140.8 213.6h0M141.1 214.4h0M141.8 213.4h0M142.1 212.4h0M142.5 213h0M143.2 212.8h0M143.5 211.6h0M143.8 213.5h0M144.2 211.3h0M144.5 211.8h0M144.9 212.3h0M145.2 212.1h0M145.9 214h0M146.2 209.9h0M146.6 212h0M146.9 210.7h0M147.9 212.9h0M148.3 210.9h0M148.6 211.5h0M149.3 212.7h0M149.6 210.9h0M150 209.9h0M150.3 212.3h0M151 212h0M152 212.6h0M152.3 213.5h0M152.7 211.4h0M153.7 214.2h0M155.7 211.9h0M156.1 211.5h0M156.7 213.1h0M157.1 214.4h0M157.4 212.7h0M157.8 211h0M158.1 211.6h0M158.8 212.2h0M159.1 212h0M159.5 211.1h0M160.1 212.9h0M160.5 214h0M160.8 212.6h0M161.2 211.9h0M161.5 211.8h0M161.8 211.6h0M162.5 211.5h0M162.9 210h0M164.2 211.7h0M165.6 211.3h0M165.9 213.3h0M166.9 213.8h0M167.3 211.9h0M167.6 214.3h0M168 213.4h0M168.3 213.3h0M169 210h0M169.7 211.6h0M170 214.3h0M170.3 213.3h0M170.7 211h0M171.4 212.8h0M171.7 213.2h0M172 209.6h0M172.4 213.9h0M172.7 214.8h0M173.1 211.8h0M173.4 210.7h0M173.7 212.7h0M174.1 210.1h0M174.7 210.7h0M175.1 213h0M175.4 211h0M175.8 210.8h0M176.1 213.5h0M176.4 213.5h0M176.8 214.7h0M177.1 212.8h0M178.1 212.8h0M178.5 210.2h0M178.8 212.3h0M180.5 211.6h0M180.9 210.6h0M181.2 210.6h0M181.5 213.5h0M182.2 213h0M182.9 211.5h0M183.6 210.7h0M183.9 212.5h0M184.6 212.5h0M184.9 214.3h0M185.6 210.4h0M186 211.4h0M186.3 213.3h0M186.6 211.6h0M187 211.6h0M187.3 213.9h0M187.7 212.5h0M188 212.1h0M189.4 213.3h0" stroke="#2f7f3b" stroke-width="1.90" stroke-linecap="round" fill="none"/>
<path d="M27.7 205.7h0M29.4 208.8h0M30.4 218.6h0M31.1 219.4h0M31.4 206h0M31.7 219.2h0M32.1 215.7h0M32.8 217h0M33.4 204.8h0M34.1 209.4h0M34.5 220.5h0M34.8 204.2h0M35.8 216.2h0M36.2 208.6h0M38.2 207.5h0M39.2 215.4h0M39.9 215.4h0M40.6 209h0M41.9 208h0M42.3 215.8h0M42.9 209h0M43.3 209.1h0M43.6 222.3h0M45.3 208.9h0M45.7 208.6h0M46 217.8h0M47 216.7h0M48.4 217.4h0M49.1 222.5h0M50.8 215.7h0M51.1 215.3h0M51.4 221.8h0M52.8 218.5h0M54.8 207.8h0M55.2 217.8h0M55.5 218.4h0M55.9 207.4h0M56.2 215.4h0M56.5 200.6h0M60.3 215.3h0M62 217h0M63.7 206.5h0M64.3 218.9h0M64.7 215.7h0M66.7 216.7h0M67.4 207.1h0M68.8 206.2h0M69.8 208.6h0M70.8 207.9h0M72.5 208.8h0M72.8 208.5h0M75.9 215.3h0M77.6 215.1h0M78.6 222.5h0M79 209.6h0M80 218.9h0M80.3 221.2h0M83 217.8h0M83.4 206.6h0M84.7 218h0M85.1 209.6h0M86.1 215.4h0M86.8 219.3h0M87.1 207.2h0M88.1 221.4h0M90.8 209h0M92.5 220.7h0M95.3 209.2h0M98.7 207.3h0M99 204h0M99.7 215.3h0M100 216h0M101.7 220.7h0M102.4 209.3h0M102.7 215.4h0M103.4 208.8h0M103.8 216h0M104.1 215.5h0M105.1 222.7h0M105.5 218.8h0M107.2 208.7h0M107.5 205.3h0M108.5 216.2h0M109.5 208.4h0M110.9 207.2h0M112.9 208.7h0M113.3 207.4h0M116 216.9h0M117.3 208.3h0M118 221.2h0M120.1 208.8h0M120.4 203.8h0M122.4 205.1h0M122.8 203.5h0M124.8 216.4h0M126.2 207.1h0M127.5 215.6h0M128.2 204.2h0M128.6 209.3h0M131.6 216.4h0M131.9 216.4h0M134 207.2h0M137.7 209.2h0M138.1 218.9h0M138.7 208.8h0M139.4 209.6h0M141.5 217.2h0M142.8 208.8h0M145.5 217.2h0M147.2 208.9h0M147.6 204.1h0M148.9 217.7h0M150.6 215.1h0M151.3 215h0M151.7 216.2h0M153 208.2h0M153.3 217.4h0M154 218.2h0M154.4 207.8h0M154.7 218.5h0M155 221.8h0M155.4 204.2h0M156.4 206.5h0M158.4 209.5h0M159.8 209.3h0M162.2 207.5h0M163.2 215.8h0M163.5 208.7h0M163.9 209.5h0M164.6 207.5h0M164.9 217.5h0M165.2 209.4h0M166.3 208.7h0M166.6 221.3h0M168.6 204.8h0M169.3 209.3h0M171 217.1h0M174.4 216.1h0M177.5 216.3h0M177.8 215.6h0M179.2 215.9h0M179.5 208.5h0M179.8 208.4h0M180.2 207.8h0M181.9 218.2h0M182.6 206.4h0M183.2 215.7h0M184.3 216.9h0M185.3 208.9h0M188.3 215.4h0M188.7 219.7h0M189 201.4h0M44 205h0M51 203h0M60 218h0M68 204h0M85 207h0M102 210h0M118 206h0M125 222h0M138 209h0M144 210h0M150 215h0M173 219h0M180 209h0M28 208h0M55 221h0" stroke="#2b5a34" stroke-width="1.90" stroke-linecap="round" fill="none"/>
<path d="M33.5 212.3V201.7M40.5 212.3V179.5M40.5 212.3V233.7M45.5 212.3V197.3M47.5 212.3V246.5M66.5 212.3V232.2M70.5 212.3V224M107.5 212.3V149.3M107.5 212.3V182.7M109.5 212.3V198.3M127.5 212.3V194.9M142.5 212.3V196.7M147.5 212.3V200M162.5 212.3V198.8M143.5 212.3V224.8M168.5 212.3V223.5M185.5 212.3V213" stroke="#985540" stroke-width="0.8" fill="none"/>
<path d="M33.5 201.7h0M40.5 179.5h0M40.5 233.7h0M45.5 197.3h0M47.5 246.5h0M66.5 232.2h0M70.5 224h0M107.5 149.3h0M107.5 182.7h0M109.5 198.3h0M127.5 194.9h0M142.5 196.7h0M147.5 200h0M162.5 198.8h0M143.5 224.8h0M168.5 223.5h0M185.5 213h0" stroke="#4a2a1e" stroke-width="2.0" stroke-linecap="round" fill="none"/>
<path d="M181.0 144.5V251.5" class="bl"/>
<path d="M188.7 144.5V251.5" class="bl"/>
</g>
<rect x="18.5" y="144.5" width="179.0" height="107.0" fill="none" stroke="#777" stroke-width="0.9"/>
<path d="M17.2 147.7H18.5" class="tk"/><text x="16.0" y="149.1" text-anchor="end" class="t">0.8</text>
<path d="M17.2 164.0H18.5" class="tk"/><text x="16.0" y="165.4" text-anchor="end" class="t">0.6</text>
<path d="M17.2 180.3H18.5" class="tk"/><text x="16.0" y="181.7" text-anchor="end" class="t">0.4</text>
<path d="M17.2 196.6H18.5" class="tk"/><text x="16.0" y="198.0" text-anchor="end" class="t">0.2</text>
<path d="M17.2 212.9H18.5" class="tk"/><text x="16.0" y="214.3" text-anchor="end" class="t">0.0</text>
<path d="M17.2 229.2H18.5" class="tk"/><text x="16.0" y="230.6" text-anchor="end" class="t">−0.2</text>
<path d="M17.2 245.5H18.5" class="tk"/><text x="16.0" y="246.9" text-anchor="end" class="t">−0.4</text>
<path d="M26.2 251.5v1.3" class="tk"/><text transform="translate(27.4,253.7) rotate(-90)" text-anchor="end" class="t xt">15:18</text>
<path d="M32.1 251.5v1.3" class="tk"/><text transform="translate(33.4,253.7) rotate(-90)" text-anchor="end" class="t xt">15:18</text>
<path d="M41.5 251.5v1.3" class="tk"/><text transform="translate(42.8,253.7) rotate(-90)" text-anchor="end" class="t xt">15:18</text>
<path d="M49.2 251.5v1.3" class="tk"/><text transform="translate(50.5,253.7) rotate(-90)" text-anchor="end" class="t xt">15:18</text>
<path d="M57 251.5v1.3" class="tk"/><text transform="translate(58.2,253.7) rotate(-90)" text-anchor="end" class="t xt">15:18</text>
<path d="M63.3 251.5v1.3" class="tk"/><text transform="translate(64.5,253.7) rotate(-90)" text-anchor="end" class="t xt">15:18</text>
<path d="M72.1 251.5v1.3" class="tk"/><text transform="translate(73.3,253.7) rotate(-90)" text-anchor="end" class="t xt">15:18</text>
<path d="M78.2 251.5v1.3" class="tk"/><text transform="translate(79.5,253.7) rotate(-90)" text-anchor="end" class="t xt">15:18</text>
<path d="M85.8 251.5v1.3" class="tk"/><text transform="translate(87.0,253.7) rotate(-90)" text-anchor="end" class="t xt">15:18</text>
<path d="M92.8 251.5v1.3" class="tk"/><text transform="translate(94.0,253.7) rotate(-90)" text-anchor="end" class="t xt">15:18</text>
<path d="M98.7 251.5v1.3" class="tk"/><text transform="translate(100.0,253.7) rotate(-90)" text-anchor="end" class="t xt">15:18</text>
<path d="M103 251.5v1.3" class="tk"/><text transform="translate(104.2,253.7) rotate(-90)" text-anchor="end" class="t xt">15:18</text>
<path d="M107.5 251.5v1.3" class="tk"/><text transform="translate(108.8,253.7) rotate(-90)" text-anchor="end" class="t xt">15:18</text>
<path d="M109.9 251.5v1.3" class="tk"/><text transform="translate(111.2,253.7) rotate(-90)" text-anchor="end" class="t xt">15:18</text>
<path d="M116.1 251.5v1.3" class="tk"/><text transform="translate(117.3,253.7) rotate(-90)" text-anchor="end" class="t xt">15:18</text>
<path d="M121.1 251.5v1.3" class="tk"/><text transform="translate(122.3,253.7) rotate(-90)" text-anchor="end" class="t xt">15:18</text>
<path d="M126.1 251.5v1.3" class="tk"/><text transform="translate(127.3,253.7) rotate(-90)" text-anchor="end" class="t xt">15:18</text>
<path d="M136 251.5v1.3" class="tk"/><text transform="translate(137.2,253.7) rotate(-90)" text-anchor="end" class="t xt">15:18</text>
<path d="M144.7 251.5v1.3" class="tk"/><text transform="translate(145.9,253.7) rotate(-90)" text-anchor="end" class="t xt">15:18</text>
<path d="M152.1 251.5v1.3" class="tk"/><text transform="translate(153.3,253.7) rotate(-90)" text-anchor="end" class="t xt">15:18</text>
<path d="M159.6 251.5v1.3" class="tk"/><text transform="translate(160.8,253.7) rotate(-90)" text-anchor="end" class="t xt">15:18</text>
<path d="M167.5 251.5v1.3" class="tk"/><text transform="translate(168.8,253.7) rotate(-90)" text-anchor="end" class="t xt">15:18</text>
<path d="M174.4 251.5v1.3" class="tk"/><text transform="translate(175.7,253.7) rotate(-90)" text-anchor="end" class="t xt">15:18</text>
<path d="M180.8 251.5v1.3" class="tk"/><text transform="translate(182.1,253.7) rotate(-90)" text-anchor="end" class="t xt">24 17:21</text>
<path d="M188.6 251.5v1.3" class="tk"/><text transform="translate(189.8,253.7) rotate(-90)" text-anchor="end" class="t xt">24 17:23</text>
<text x="108.0" y="142.6" text-anchor="middle" class="ti">AGX_2021-12-24 17:21</text>
<text x="108.0" y="271.5" text-anchor="middle" class="t">datetime</text>
<text transform="translate(6.5,198.0) rotate(-90)" text-anchor="middle" class="t">BS_volume</text>
<rect x="150.9" y="145.5" width="45.3" height="10.9" fill="#fff" fill-opacity="0.95" stroke="#d8d8d8" stroke-width="0.4" rx="0.8"/>
<path d="M152.9 148.4h6.2" class="bl"/><path d="M152.9 153.7h6.2" class="th"/>
<text x="162.2" y="149.7" class="t">2021-12-24 17:21</text>
<text x="162.2" y="154.9" class="t">anomalous volumes</text>
<clipPath id="cp4"><rect x="218.5" y="144.5" width="179.0" height="107.0"/></clipPath>
<g clip-path="url(#cp4)">
<rect x="225" y="144.5" width="4.0" height="107.0" fill="#fef7fa"/>
<rect x="240" y="144.5" width="5.0" height="107.0" fill="#fef7fa"/>
<rect x="274" y="144.5" width="5.0" height="107.0" fill="#fef7fa"/>
<rect x="285" y="144.5" width="5.0" height="107.0" fill="#fef7fa"/>
<rect x="300" y="144.5" width="5.0" height="107.0" fill="#fef7fa"/>
<rect x="311" y="144.5" width="7.0" height="107.0" fill="#fef7fa"/>
<rect x="342" y="144.5" width="5.0" height="107.0" fill="#fef7fa"/>
<rect x="226" y="200.6" width="163.5" height="11.9" fill="#dff9ef"/>
<rect x="312" y="200" width="11.0" height="30.0" fill="#dff9ef"/>
<rect x="338" y="200" width="12.0" height="22.0" fill="#dff9ef"/>
<path d="M226.6 175.0H389.4" class="th" style="stroke:#dcd68e"/>
<path d="M226.6 237.8H389.4" class="th" style="stroke:#dcd68e"/>
<path d="M227.7 205.8V229.9M230.4 205.8V221.9M237.2 205.8V218.1M238.9 205.8V212.5M247 205.8V202.5M249.1 205.8V213.5M258.9 205.8V210.4M259.6 205.8V200.2M264.7 205.8V202.3M266.4 205.8V202.6M271.1 205.8V219.6M272.8 205.8V214.6M280.3 205.8V201.8M283 205.8V212.2M285.1 205.8V212.2M287.1 205.8V214.6M288.5 205.8V186.3M290.2 205.8V213.9M290.8 205.8V201M291.5 205.8V223.2M293.2 205.8V209.9M295.6 205.8V201M297 205.8V203M304.1 205.8V211.3M306.8 205.8V210.8M309.2 205.8V195.1M312.6 205.8V208.7M316.3 205.8V200.2M320.1 205.8V210.7M322.4 205.8V202.7M322.8 205.8V231.9M323.5 205.8V197.1M325.8 205.8V201.1M326.9 205.8V208.5M327.5 205.8V212.2M330.9 205.8V211.8M332.3 205.8V215.7M334.7 205.8V212.4M335.7 205.8V200.2M336.7 205.8V209.7M340.1 205.8V191.7M343.2 205.8V210M348.9 205.8V212.6M351.3 205.8V219.7M359.1 205.8V221.5M361.5 205.8V215.1M364.6 205.8V211.3M366.6 205.8V201.8M367.6 205.8V201.6M369 205.8V202M369.7 205.8V197.5M371.4 205.8V210.7M372.4 205.8V202.5M373.7 205.8V211.6M378.1 205.8V202.1M389 205.8V196.2M254 205.8V186M242.7 205.8V233M232.3 205.8V225.8M240.7 205.8V224.8M277.6 205.8V192.3M283.2 205.8V221M306.5 205.8V220.3M313 205.8V229.4M342 205.8V221.3M358.8 205.8V219.5M379.5 205.8V221.6M340.6 205.8V198M354.5 205.8V195.3M364 205.8V198M368 205.8V197.5M378 205.8V200M229 205.8V215M236 205.8V212M248 205.8V213M262 205.8V210M292 205.8V211M325 205.8V213M331 205.8V199M370 205.8V214" stroke="#4f8c5e" stroke-width="0.6" fill="none"/>
<rect x="225.8" y="203.80" width="164.3" height="4.0" fill="#286432"/>
<path d="M226.6 204.8h0M227 206.5h0M227.3 205.8h0M228 205.5h0M228.3 205.1h0M228.7 206.5h0M229 207.5h0M229.4 206.7h0M229.7 206.2h0M230 206h0M230.7 203.6h0M231.1 206.1h0M231.4 205.8h0M231.7 206.1h0M232.1 205.5h0M232.4 205.9h0M232.8 205.3h0M233.1 205.1h0M233.4 204.7h0M233.8 205.1h0M234.1 206.2h0M234.5 204.3h0M234.8 206h0M235.1 205.5h0M235.5 207.5h0M235.8 206h0M236.2 206.7h0M236.5 205.8h0M236.8 204.8h0M237.5 206.2h0M237.9 206.4h0M238.2 207.1h0M238.5 205.4h0M239.2 204.5h0M239.6 206.8h0M239.9 204.2h0M240.2 205.8h0M240.6 206.2h0M240.9 204.8h0M241.3 205.1h0M241.6 205.5h0M241.9 206.8h0M242.3 206.5h0M242.6 206.1h0M242.9 206.8h0M243.3 206.3h0M243.6 207.7h0M244 206.9h0M244.3 204h0M244.6 205.4h0M245 205.4h0M245.3 205.7h0M245.7 207.3h0M246 207.6h0M246.3 204.8h0M246.7 205.1h0M247.4 207.2h0M247.7 205.2h0M248 207.4h0M248.4 205.4h0M248.7 206.1h0M249.4 205.6h0M249.7 205.9h0M250.1 206h0M250.4 204.4h0M250.8 205.8h0M251.1 207h0M251.4 205.1h0M251.8 205.2h0M252.1 207h0M252.5 205.9h0M252.8 205.6h0M253.1 206.2h0M253.5 205.8h0M253.8 206.3h0M254.2 205.5h0M254.5 207.2h0M254.8 204.6h0M255.2 206.3h0M255.5 206.4h0M255.9 205.5h0M256.2 205.3h0M256.5 206.7h0M256.9 205.1h0M257.2 206.6h0M257.6 205h0M257.9 206.1h0M258.2 205h0M258.6 204.4h0M259.3 205.9h0M259.9 205.6h0M260.3 206.4h0M260.6 205.1h0M261 207.2h0M261.3 205.7h0M261.6 205.8h0M262 204.8h0M262.3 204.4h0M262.7 206.4h0M263 205.6h0M263.3 206.2h0M263.7 205.7h0M264 205.7h0M264.3 207.9h0M265 204h0M265.4 205.1h0M265.7 205.4h0M266 206.4h0M266.7 205.5h0M267.1 205.4h0M267.4 204.9h0M267.7 204.8h0M268.1 204h0M268.4 207.3h0M268.8 208.4h0M269.1 204.5h0M269.4 203.6h0M269.8 205.4h0M270.1 205.7h0M270.5 206.5h0M270.8 206.8h0M271.5 205.9h0M271.8 206.6h0M272.2 205.9h0M272.5 204.9h0M273.2 204.9h0M273.5 206h0M273.9 206h0M274.2 204.4h0M274.5 203.7h0M274.9 205.5h0M275.2 207.1h0M275.6 203.6h0M275.9 203.8h0M276.2 207.2h0M276.6 205.4h0M276.9 206.2h0M277.3 205.9h0M277.6 205.9h0M277.9 205.1h0M278.3 206.6h0M278.6 205h0M279 207.1h0M279.3 207.5h0M279.6 204.8h0M280 205.5h0M280.7 205.7h0M281 206h0M281.3 204.3h0M281.7 204.1h0M282 206.4h0M282.4 205.8h0M282.7 204.3h0M283.4 205.2h0M283.7 205.1h0M284.1 204.9h0M284.4 205.7h0M284.7 206h0M285.4 204.4h0M285.8 206.7h0M286.1 204.5h0M286.4 207h0M286.8 205.5h0M287.4 205.7h0M287.8 205.1h0M288.1 205.5h0M288.8 206.3h0M289.1 206.8h0M289.5 205.4h0M289.8 206.9h0M290.5 205.8h0M291.2 205.8h0M291.9 204.5h0M292.2 207.1h0M292.5 206.1h0M292.9 206.7h0M293.6 206.6h0M293.9 204.5h0M294.2 204h0M294.6 206.5h0M294.9 206.6h0M295.3 206.9h0M295.9 205.1h0M296.3 204.5h0M296.6 206.6h0M297.3 206.5h0M297.6 204h0M298 206.3h0M298.3 204.6h0M298.7 205.9h0M299 206.2h0M299.3 206.1h0M299.7 205.8h0M300 206.9h0M300.4 206.9h0M300.7 205.7h0M301 206.5h0M301.4 205.5h0M301.7 205.5h0M302.1 205.6h0M302.4 208.1h0M302.7 206.1h0M303.1 206.2h0M303.4 206.3h0M303.8 205.9h0M304.4 205.3h0M304.8 204.2h0M305.1 206.5h0M305.5 207h0M305.8 205.7h0M306.1 204.8h0M306.5 205.4h0M307.2 206.7h0M307.5 205.7h0M307.8 204.7h0M308.2 206.9h0M308.5 205h0M308.8 206.2h0M309.5 206.1h0M309.9 204.9h0M310.2 206.3h0M310.5 205.5h0M310.9 204.3h0M311.2 205.3h0M311.6 205.8h0M311.9 206.5h0M312.2 206.7h0M312.9 205.3h0M313.3 206.8h0M313.6 205.2h0M313.9 205.9h0M314.3 204h0M314.6 206.1h0M315 206h0M315.3 206.2h0M315.6 205.3h0M316 205.4h0M316.7 204.9h0M317 204.5h0M317.3 207.1h0M317.7 206.5h0M318 206.4h0M318.4 206h0M318.7 205.4h0M319 206.9h0M319.4 205.7h0M319.7 206.3h0M320.4 206h0M320.7 205.8h0M321.1 204.2h0M321.4 206.4h0M321.8 205.2h0M322.1 204.4h0M323.1 204.4h0M323.8 206.2h0M324.1 205.7h0M324.5 205.8h0M324.8 206.6h0M325.2 207.3h0M325.5 203.9h0M326.2 205.7h0M326.5 207.7h0M327.2 204.9h0M327.9 205.1h0M328.2 205.3h0M328.6 207.3h0M328.9 207.4h0M329.2 203.8h0M329.6 205.3h0M329.9 205.7h0M330.2 204.6h0M330.6 205.9h0M331.3 205.4h0M331.6 207.5h0M331.9 205.3h0M332.6 206.1h0M333 205.1h0M333.3 205.3h0M333.6 205.3h0M334 204.9h0M334.3 205.3h0M335 207.5h0M335.3 205.5h0M336 206h0M336.4 206.6h0M337 206.1h0M337.4 206.9h0M337.7 205.8h0M338.1 207.1h0M338.4 205.8h0M338.7 204.9h0M339.1 205.4h0M339.4 205.7h0M339.8 205.9h0M340.4 204.7h0M340.8 207.4h0M341.1 205.9h0M341.5 205.4h0M341.8 206.9h0M342.1 205.7h0M342.5 205.8h0M342.8 206.1h0M343.5 205.8h0M343.8 205h0M344.2 205.7h0M344.5 205.5h0M344.9 206h0M345.2 206.1h0M345.5 205h0M345.9 205.7h0M346.2 204.8h0M346.6 203.9h0M346.9 205.6h0M347.2 203.9h0M347.6 205.2h0M347.9 204.6h0M348.3 206.3h0M348.6 206.1h0M349.3 206.2h0M349.6 205.7h0M350 205.1h0M350.3 205.2h0M350.6 205.2h0M351 204.8h0M351.7 204.6h0M352 205.8h0M352.3 205.4h0M352.7 205.9h0M353 204.6h0M353.3 204.6h0M353.7 207.9h0M354 204.1h0M354.4 205.5h0M354.7 205.8h0M355 205.5h0M355.4 206.7h0M355.7 205.6h0M356.1 206.4h0M356.4 204.3h0M356.7 204.6h0M357.1 206.4h0M357.4 205.6h0M357.8 205.4h0M358.1 205h0M358.4 207.7h0M358.8 203.9h0M359.5 206.9h0M359.8 206.5h0M360.1 205.8h0M360.5 206.9h0M360.8 205.9h0M361.2 206.6h0M361.8 207h0M362.2 206h0M362.5 208.2h0M362.9 206.2h0M363.2 207.5h0M363.5 204.8h0M363.9 206.3h0M364.2 206.6h0M364.9 205.1h0M365.2 205.6h0M365.6 205h0M365.9 205h0M366.3 208.2h0M366.9 205.8h0M367.3 204.6h0M368 206h0M368.3 206.3h0M368.6 206h0M369.3 205.5h0M370 204.8h0M370.3 206.3h0M370.7 205.2h0M371 205.2h0M371.7 206.3h0M372 206.3h0M372.7 204.2h0M373.1 205.1h0M373.4 205.1h0M374.1 206.3h0M374.4 206.4h0M374.7 205.1h0M375.1 206.4h0M375.4 207.4h0M375.8 203.4h0M376.1 204.5h0M376.4 206.5h0M376.8 206.6h0M377.1 205.4h0M377.5 206.6h0M377.8 206h0M378.5 206.2h0M378.8 205.6h0M379.2 205.6h0M379.5 206.7h0M379.8 205.8h0M380.2 206.6h0M380.5 205.2h0M380.9 205.8h0M381.2 205.9h0M381.5 206.4h0M381.9 205.9h0M382.2 206.6h0M382.6 204.6h0M382.9 206.3h0M383.2 205.3h0M383.6 205.1h0M383.9 206h0M384.3 204.6h0M384.6 206.5h0M384.9 207.4h0M385.3 206.7h0M385.6 204.8h0M386 205.3h0M386.3 207.4h0M386.6 206h0M387 204.4h0M387.3 206.8h0M387.7 205.4h0M388 206.3h0M388.3 205h0M388.7 206.1h0M389.4 205.8h0" stroke="#286432" stroke-width="1.90" stroke-linecap="round" fill="none"/>
<path d="M227.7 229.9h0M230.4 221.9h0M237.2 218.1h0M238.9 212.5h0M247 202.5h0M249.1 213.5h0M258.9 210.4h0M259.6 200.2h0M264.7 202.3h0M266.4 202.6h0M271.1 219.6h0M272.8 214.6h0M280.3 201.8h0M283 212.2h0M285.1 212.2h0M287.1 214.6h0M288.5 186.3h0M290.2 213.9h0M290.8 201h0M291.5 223.2h0M293.2 209.9h0M295.6 201h0M297 203h0M304.1 211.3h0M306.8 210.8h0M309.2 195.1h0M312.6 208.7h0M316.3 200.2h0M320.1 210.7h0M322.4 202.7h0M322.8 231.9h0M323.5 197.1h0M325.8 201.1h0M326.9 208.5h0M327.5 212.2h0M330.9 211.8h0M332.3 215.7h0M334.7 212.4h0M335.7 200.2h0M336.7 209.7h0M340.1 191.7h0M343.2 210h0M348.9 212.6h0M351.3 219.7h0M359.1 221.5h0M361.5 215.1h0M364.6 211.3h0M366.6 201.8h0M367.6 201.6h0M369 202h0M369.7 197.5h0M371.4 210.7h0M372.4 202.5h0M373.7 211.6h0M378.1 202.1h0M389 196.2h0M254 186h0M242.7 233h0M232.3 225.8h0M240.7 224.8h0M277.6 192.3h0M283.2 221h0M306.5 220.3h0M313 229.4h0M342 221.3h0M358.8 219.5h0M379.5 221.6h0M340.6 198h0M354.5 195.3h0M364 198h0M368 197.5h0M378 200h0M229 215h0M236 212h0M248 213h0M262 210h0M292 211h0M325 213h0M331 199h0M370 214h0" stroke="#263d2b" stroke-width="1.90" stroke-linecap="round" fill="none"/>
<path d="M227.5 205.8V246.2M242.5 205.8V162.5M276.5 205.8V245M287.5 205.8V149M302.5 205.8V175.2M313.5 205.8V190M316.5 205.8V172.5M316.5 205.8V180.6M344.5 205.8V166.6" stroke="#985540" stroke-width="0.8" fill="none"/>
<path d="M227.5 246.2h0M242.5 162.5h0M276.5 245h0M287.5 149h0M302.5 175.2h0M313.5 190h0M316.5 172.5h0M316.5 180.6h0M344.5 166.6h0" stroke="#4a2a1e" stroke-width="2.0" stroke-linecap="round" fill="none"/>
<path d="M383.5 144.5V251.5" class="bl"/>
<path d="M388.8 144.5V251.5" class="bl"/>
</g>
<rect x="218.5" y="144.5" width="179.0" height="107.0" fill="none" stroke="#777" stroke-width="0.9"/>
<path d="M217.2 161.7H218.5" class="tk"/><text x="216.0" y="163.1" text-anchor="end" class="t">0.2</text>
<path d="M217.2 184.1H218.5" class="tk"/><text x="216.0" y="185.5" text-anchor="end" class="t">0.1</text>
<path d="M217.2 206.5H218.5" class="tk"/><text x="216.0" y="207.9" text-anchor="end" class="t">0.0</text>
<path d="M217.2 228.9H218.5" class="tk"/><text x="216.0" y="230.3" text-anchor="end" class="t">−0.1</text>
<path d="M217.2 251.3H218.5" class="tk"/><text x="216.0" y="252.7" text-anchor="end" class="t">−0.2</text>
<path d="M226.3 251.5v1.3" class="tk"/><text transform="translate(227.6,253.7) rotate(-90)" text-anchor="end" class="t xt">15:18</text>
<path d="M227.0 251.5v1.3" class="tk"/><text transform="translate(228.2,253.7) rotate(-90)" text-anchor="end" class="t xt">15:18</text>
<path d="M237.0 251.5v1.3" class="tk"/><text transform="translate(238.2,253.7) rotate(-90)" text-anchor="end" class="t xt">15:18</text>
<path d="M245.2 251.5v1.3" class="tk"/><text transform="translate(246.4,253.7) rotate(-90)" text-anchor="end" class="t xt">15:18</text>
<path d="M250.8 251.5v1.3" class="tk"/><text transform="translate(252.1,253.7) rotate(-90)" text-anchor="end" class="t xt">15:18</text>
<path d="M261 251.5v1.3" class="tk"/><text transform="translate(262.2,253.7) rotate(-90)" text-anchor="end" class="t xt">15:18</text>
<path d="M270.4 251.5v1.3" class="tk"/><text transform="translate(271.6,253.7) rotate(-90)" text-anchor="end" class="t xt">15:18</text>
<path d="M276.8 251.5v1.3" class="tk"/><text transform="translate(278.1,253.7) rotate(-90)" text-anchor="end" class="t xt">15:18</text>
<path d="M287.6 251.5v1.3" class="tk"/><text transform="translate(288.9,253.7) rotate(-90)" text-anchor="end" class="t xt">15:18</text>
<path d="M295.2 251.5v1.3" class="tk"/><text transform="translate(296.4,253.7) rotate(-90)" text-anchor="end" class="t xt">15:18</text>
<path d="M303.5 251.5v1.3" class="tk"/><text transform="translate(304.8,253.7) rotate(-90)" text-anchor="end" class="t xt">15:18</text>
<path d="M309.9 251.5v1.3" class="tk"/><text transform="translate(311.1,253.7) rotate(-90)" text-anchor="end" class="t xt">15:18</text>
<path d="M315.4 251.5v1.3" class="tk"/><text transform="translate(316.6,253.7) rotate(-90)" text-anchor="end" class="t xt">15:18</text>
<path d="M322.8 251.5v1.3" class="tk"/><text transform="translate(324.1,253.7) rotate(-90)" text-anchor="end" class="t xt">15:18</text>
<path d="M324.8 251.5v1.3" class="tk"/><text transform="translate(326.1,253.7) rotate(-90)" text-anchor="end" class="t xt">15:18</text>
<path d="M336 251.5v1.3" class="tk"/><text transform="translate(337.2,253.7) rotate(-90)" text-anchor="end" class="t xt">15:18</text>
<path d="M340.2 251.5v1.3" class="tk"/><text transform="translate(341.4,253.7) rotate(-90)" text-anchor="end" class="t xt">15:18</text>
<path d="M345.9 251.5v1.3" class="tk"/><text transform="translate(347.1,253.7) rotate(-90)" text-anchor="end" class="t xt">15:18</text>
<path d="M349.6 251.5v1.3" class="tk"/><text transform="translate(350.9,253.7) rotate(-90)" text-anchor="end" class="t xt">15:18</text>
<path d="M357.6 251.5v1.3" class="tk"/><text transform="translate(358.9,253.7) rotate(-90)" text-anchor="end" class="t xt">15:18</text>
<path d="M364.5 251.5v1.3" class="tk"/><text transform="translate(365.8,253.7) rotate(-90)" text-anchor="end" class="t xt">15:18</text>
<path d="M372.5 251.5v1.3" class="tk"/><text transform="translate(373.8,253.7) rotate(-90)" text-anchor="end" class="t xt">15:18</text>
<path d="M378.9 251.5v1.3" class="tk"/><text transform="translate(380.1,253.7) rotate(-90)" text-anchor="end" class="t xt">15:18</text>
<path d="M383.3 251.5v1.3" class="tk"/><text transform="translate(384.6,253.7) rotate(-90)" text-anchor="end" class="t xt">03 14:40</text>
<path d="M388.8 251.5v1.3" class="tk"/><text transform="translate(390.1,253.7) rotate(-90)" text-anchor="end" class="t xt">03 14:42</text>
<text x="308.0" y="142.6" text-anchor="middle" class="ti">AGX_2022-2-3 14:40</text>
<text x="308.0" y="271.5" text-anchor="middle" class="t">datetime</text>
<text transform="translate(206.8,198.0) rotate(-90)" text-anchor="middle" class="t">BS_volume</text>
<rect x="350.9" y="145.5" width="45.3" height="10.9" fill="#fff" fill-opacity="0.95" stroke="#d8d8d8" stroke-width="0.4" rx="0.8"/>
<path d="M352.9 148.4h6.2" class="bl"/><path d="M352.9 153.7h6.2" class="th"/>
<text x="362.2" y="149.7" class="t">2022-2-3 14:40</text>
<text x="362.2" y="154.9" class="t">anomalous volumes</text>
<clipPath id="cp5"><rect x="18.5" y="282.5" width="179.0" height="107.0"/></clipPath>
<g clip-path="url(#cp5)">
<rect x="32" y="312" width="15.0" height="77.5" fill="#fef7fa"/>
<rect x="72.5" y="303" width="14.0" height="86.5" fill="#fef7fa"/>
<rect x="119.7" y="310" width="7.9" height="79.5" fill="#fef7fa"/>
<rect x="160" y="310" width="8.0" height="79.5" fill="#fef7fa"/>
<rect x="175.7" y="285" width="14.3" height="104.5" fill="#fef7fa"/>
<rect x="26" y="331" width="164.0" height="19.0" fill="#dff9ef"/>
<rect x="50" y="328" width="25.0" height="28.0" fill="#dff9ef"/>
<rect x="110" y="330" width="50.0" height="22.0" fill="#dff9ef"/>
<path d="M26.5 320.4H189.4" class="th" style="stroke:#dcd68e"/>
<path d="M26.5 360.3H189.4" class="th" style="stroke:#dcd68e"/>
<path d="M26.6 340V330.7M27.2 340V336.4M27.7 340V333.4M28.5 340V336.4M28.7 340V344.5M29 340V336.8M30.1 340V344.2M31.6 340V343.2M31.9 340V342.8M32.2 340V342.9M33.2 340V344.8M34 340V337M34.3 340V348M35.1 340V347.1M36.6 340V342.8M37.4 340V336.2M39.8 340V343M40.3 340V337.2M41.6 340V344.1M41.9 340V336.2M42.2 340V336.3M42.7 340V344.9M42.9 340V343.3M43.5 340V348.6M44.3 340V333.5M45 340V347.8M45.3 340V346.6M46.4 340V345.2M46.6 340V342.5M46.9 340V344.8M47.1 340V343.2M47.4 340V333.7M47.9 340V337.5M49.5 340V344.3M49.8 340V337M50 340V343.3M50.3 340V337.1M50.6 340V344.1M51.1 340V336.2M51.6 340V337M51.9 340V344M52.7 340V348.5M53.7 340V342.9M54 340V334.7M55.6 340V342.8M56.9 340V346M57.1 340V331.1M57.4 340V334.8M57.7 340V345.3M58.5 340V335.7M61.1 340V334.9M61.6 340V344.2M62.1 340V342.5M62.7 340V334.2M63.2 340V337M63.4 340V343.7M63.7 340V337.1M65 340V344.9M65.5 340V346M65.8 340V343M66.6 340V335.8M66.9 340V336.7M67.7 340V344M67.9 340V342.8M68.4 340V343.3M68.7 340V336.8M69.8 340V343.5M70.5 340V343.3M70.8 340V337.2M71.1 340V337.5M72.4 340V343.3M72.6 340V334.1M73.2 340V343M73.7 340V345.8M74.2 340V337M74.5 340V337.6M75 340V332.5M75.5 340V344.5M76.1 340V324.6M76.3 340V329.3M76.6 340V343.7M77.9 340V345.8M78.2 340V350.8M78.7 340V344.4M79.5 340V337.3M80.3 340V342.6M80.8 340V343.6M81.1 340V331.5M81.3 340V337.1M81.6 340V329.4M83.9 340V347.7M84.2 340V335.8M86.6 340V336.9M86.8 340V345.6M87.4 340V336.2M88.2 340V329.5M89.2 340V343.6M89.5 340V336.7M89.7 340V337.4M90 340V335M90.5 340V337.2M92.6 340V336.4M92.9 340V343.3M93.7 340V332.5M93.9 340V343.4M94.2 340V343.9M95 340V337M95.3 340V336.4M96 340V344.5M96.6 340V346.3M98.1 340V336.7M98.9 340V345.7M99.2 340V344.3M99.7 340V344.6M100 340V342.5M100.5 340V335.6M101.3 340V343M101.6 340V334.8M101.8 340V343.3M102.1 340V342.9M102.6 340V337.6M102.9 340V337.1M103.1 340V333.6M103.4 340V343M103.7 340V342.9M104.2 340V343.8M104.5 340V336.3M104.7 340V336.8M105 340V336M105.2 340V345.8M105.5 340V342.8M106.3 340V337.5M106.6 340V337.6M108.1 340V337.2M108.4 340V342.9M108.9 340V336.9M109.4 340V343.8M109.7 340V342.5M110.5 340V348.4M111.5 340V345.4M111.8 340V336M112.3 340V343.2M112.6 340V336.8M113.1 340V342.8M113.7 340V328.9M113.9 340V343.8M114.2 340V342.7M114.4 340V337.4M115.2 340V336.2M115.5 340V343.9M115.8 340V345.6M116.3 340V343M116.5 340V344.8M117.1 340V329.8M117.3 340V333.4M117.9 340V346.9M118.6 340V346.3M118.9 340V349.9M119.7 340V342.8M120.2 340V335.7M120.5 340V336M120.7 340V343.8M121 340V334.5M121.8 340V334.1M122.1 340V344.6M122.3 340V342.5M122.6 340V346.5M125 340V337.2M125.5 340V329.5M126.3 340V334.9M127.3 340V342.7M127.8 340V336.2M128.1 340V336.9M129.2 340V333.6M129.7 340V333.2M130.2 340V342.8M130.5 340V332.7M130.7 340V345.8M131 340V337M131.5 340V343M132.6 340V331.9M134.2 340V337.5M134.4 340V335.4M134.7 340V345.8M136.3 340V343.2M136.8 340V342.8M137 340V347.4M137.3 340V336.2M137.8 340V337.6M138.1 340V336.9M139.1 340V337.6M139.7 340V342.6M139.9 340V343.6M140.7 340V327.6M141.5 340V337.2M142 340V336.8M142.3 340V342.7M142.6 340V343.9M143.9 340V332.4M144.4 340V336.8M144.7 340V343.5M145.2 340V357.1M145.5 340V327.9M146.2 340V337.3M146.5 340V336.6M146.8 340V332M147 340V335.4M147.3 340V327.4M147.6 340V337.2M148.1 340V337.2M148.6 340V344.4M149.9 340V352.1M150.2 340V345.5M150.5 340V333.5M151.2 340V346.3M152.3 340V334.3M153.1 340V335.6M153.6 340V335.6M153.9 340V337.5M154.1 340V349.7M154.4 340V336.8M154.9 340V342.5M157.3 340V337.5M157.5 340V325.8M157.8 340V336.8M158.1 340V336.9M158.6 340V342.9M159.4 340V343.1M160.7 340V346.6M161.8 340V344.4M162 340V333.8M162.8 340V332.2M163.6 340V337.1M164.6 340V342.7M164.9 340V348.1M165.2 340V336.5M165.4 340V336.4M166.7 340V342.8M167.5 340V336.9M168.3 340V342.4M168.9 340V343.7M169.6 340V346.1M170.4 340V348.6M171 340V331.4M171.2 340V334.3M171.5 340V347.3M171.7 340V337M172.8 340V336.6M173.1 340V335M174.1 340V343.7M174.4 340V329.6M175.2 340V343.8M175.7 340V342.5M176.2 340V343.3M177.5 340V328.5M177.8 340V333.7M178.1 340V335.6M178.6 340V350.2M179.1 340V336.6M179.9 340V343.1M180.2 340V337.3M180.4 340V345.2M180.7 340V348.2M180.9 340V347.3M181.2 340V348.3M181.7 340V337.2M182 340V337.6M183 340V347.2M183.3 340V336.4M183.6 340V331.1M183.8 340V344.9M185.4 340V347.3M185.7 340V346M186.5 340V343.4M187 340V348.6M187.5 340V336.1M188.3 340V333M189.1 340V342.5M48.3 340V327M61 340V357.8M45 340V353M50 340V325M57 340V329M66 340V350M74 340V328M92 340V326M97 340V322M100 340V353M103 340V351M110 340V331M115 340V326M130 340V355M136 340V326M140 340V350M150 340V330M158 340V346M170 340V336M185 340V345" stroke="#4f8c5e" stroke-width="0.6" fill="none"/>
<rect x="25.8" y="338.25" width="164.3" height="3.5" fill="#2c7a3c"/>
<path d="M26.9 342.3h0M27.4 338.8h0M28 338h0M28.2 341.7h0M29.3 341.8h0M29.5 340.6h0M29.8 341.5h0M30.3 340.6h0M30.6 338.9h0M30.9 338.9h0M31.1 341.3h0M31.4 340.6h0M32.4 339h0M32.7 339.3h0M33 339.9h0M33.5 339.9h0M33.7 341.1h0M34.5 338.9h0M34.8 338.8h0M35.3 338.3h0M35.6 342.1h0M35.8 339.6h0M36.1 339.5h0M36.4 338.5h0M36.9 338.9h0M37.2 338.6h0M37.7 339h0M37.9 339.8h0M38.2 339.7h0M38.5 338.4h0M38.7 338.9h0M39 338.9h0M39.3 340.7h0M39.5 340.9h0M40.1 341h0M40.6 337.8h0M40.8 341.1h0M41.1 337.7h0M41.4 341.2h0M42.4 339.4h0M43.2 340h0M43.7 339.8h0M44 339.6h0M44.5 338.4h0M44.8 338.6h0M45.6 340.9h0M45.8 339.7h0M46.1 339.3h0M47.7 340.9h0M48.2 340.7h0M48.5 340.6h0M48.7 341.2h0M49 339.9h0M49.3 338.8h0M50.8 339.3h0M51.4 342.3h0M52.1 339.6h0M52.4 341.2h0M52.9 341h0M53.2 339.2h0M53.5 339.1h0M54.2 339.6h0M54.5 339.2h0M54.8 339.9h0M55 339.1h0M55.3 340.9h0M55.8 340.4h0M56.1 340.2h0M56.3 342h0M56.6 339.8h0M57.9 340.4h0M58.2 339.7h0M58.7 338.2h0M59 338.2h0M59.2 341.3h0M59.5 338.4h0M59.8 340h0M60 341.3h0M60.3 340h0M60.6 341.2h0M60.8 339.1h0M61.3 338.9h0M61.9 338.1h0M62.4 340.3h0M62.9 341.6h0M64 338.3h0M64.2 341.3h0M64.5 340h0M64.8 339h0M65.3 341.3h0M66.1 342.1h0M66.3 341.1h0M67.1 339.2h0M67.4 339.8h0M68.2 342h0M69 339.7h0M69.2 338.1h0M69.5 341.1h0M70 340.4h0M70.3 337.9h0M71.3 339.9h0M71.6 342.1h0M71.9 340.4h0M72.1 340h0M72.9 341.5h0M73.4 342.1h0M74 338.9h0M74.7 341.8h0M75.3 338.7h0M75.8 341.3h0M76.9 339.7h0M77.1 340.6h0M77.4 339.1h0M77.6 338.9h0M78.4 341.1h0M79 340.9h0M79.2 338.8h0M79.7 339.9h0M80 341.2h0M80.5 341.5h0M81.8 341.4h0M82.1 338.1h0M82.4 340.7h0M82.6 342.2h0M82.9 339.6h0M83.2 341.1h0M83.4 340.1h0M83.7 340.2h0M84.5 338.6h0M84.7 339.6h0M85 340.4h0M85.3 342h0M85.5 341.8h0M85.8 339.3h0M86.1 338.4h0M86.3 339.3h0M87.1 342.3h0M87.6 338.8h0M87.9 339.2h0M88.4 338h0M88.7 339.7h0M88.9 338.3h0M90.3 340.7h0M90.8 338.3h0M91 339.9h0M91.3 341.7h0M91.6 339.6h0M91.8 339.7h0M92.1 341.6h0M92.4 340.3h0M93.1 341.5h0M93.4 341h0M94.5 341.7h0M94.7 339.6h0M95.5 338.3h0M95.8 339.6h0M96.3 340.6h0M96.8 338.7h0M97.1 342.1h0M97.4 340.7h0M97.6 339.2h0M97.9 341.8h0M98.4 341.6h0M98.7 340.7h0M99.5 340.2h0M100.2 339.2h0M100.8 339.6h0M101 341.1h0M102.3 338.7h0M103.9 341h0M105.8 340.2h0M106 342.2h0M106.8 339.3h0M107.1 340.8h0M107.3 338.9h0M107.6 341.2h0M107.9 338h0M108.7 338.9h0M109.2 339.2h0M110 340.1h0M110.2 339.1h0M110.8 339.5h0M111 340.4h0M111.3 337.8h0M112.1 340h0M112.9 341.2h0M113.4 341h0M114.7 340.9h0M115 341.1h0M116 338.3h0M116.8 342.3h0M117.6 340.7h0M118.1 340.2h0M118.4 341.4h0M119.2 339.4h0M119.4 342h0M120 338.8h0M121.3 341.4h0M121.5 341.5h0M122.9 339.7h0M123.1 341.8h0M123.4 341.3h0M123.6 340.5h0M123.9 340.8h0M124.2 341.6h0M124.4 339.9h0M124.7 341.9h0M125.2 339.8h0M125.7 339h0M126 337.9h0M126.5 339h0M126.8 340h0M127.1 339.5h0M127.6 339.7h0M128.4 338.4h0M128.6 338h0M128.9 340.6h0M129.4 342.2h0M129.9 340.8h0M131.3 339.7h0M131.8 341.1h0M132.1 339.8h0M132.3 341.5h0M132.8 341.6h0M133.1 340.7h0M133.4 338.6h0M133.6 339.1h0M133.9 337.8h0M134.9 339.3h0M135.2 339.6h0M135.5 337.7h0M135.7 339.5h0M136 340.8h0M136.5 342h0M137.6 338.9h0M138.4 341.7h0M138.6 341h0M138.9 339.5h0M139.4 339.7h0M140.2 338.7h0M140.5 340.3h0M141 339.9h0M141.3 337.7h0M141.8 338.6h0M142.8 340.5h0M143.1 342h0M143.4 341.8h0M143.6 341.8h0M144.1 340.5h0M144.9 339.8h0M145.7 337.7h0M146 339.6h0M147.8 339.5h0M148.3 341.2h0M148.9 339.8h0M149.1 340.2h0M149.4 340.3h0M149.7 339.2h0M150.7 341.4h0M151 341.6h0M151.5 341.5h0M151.8 342.1h0M152 342.1h0M152.6 341.9h0M152.8 338.2h0M153.3 338.6h0M154.7 338.9h0M155.2 340.7h0M155.4 340.6h0M155.7 338.3h0M156 339.8h0M156.2 339.1h0M156.5 342.1h0M156.8 340.8h0M157 338.7h0M158.3 340.8h0M158.9 337.8h0M159.1 340.5h0M159.7 339.7h0M159.9 338.2h0M160.2 342h0M160.4 338h0M161 339.3h0M161.2 338.9h0M161.5 342h0M162.3 341.3h0M162.5 339.8h0M163.1 338.3h0M163.3 339.1h0M163.9 342.3h0M164.1 339.3h0M164.4 340.9h0M165.7 339.3h0M166 338.4h0M166.2 341.3h0M166.5 341.2h0M167 338.9h0M167.3 341.8h0M167.8 339.5h0M168.1 338.9h0M168.6 341.7h0M169.1 341.3h0M169.4 340.8h0M169.9 339.7h0M170.2 340.2h0M170.7 338.8h0M172 339.1h0M172.3 339.4h0M172.5 339.5h0M173.3 342.3h0M173.6 338h0M173.8 338.9h0M174.6 339.5h0M174.9 339.9h0M175.4 339.3h0M175.9 340.4h0M176.5 337.8h0M176.7 340.6h0M177 341.8h0M177.3 338.8h0M178.3 341h0M178.8 341.9h0M179.4 338.3h0M179.6 339.5h0M181.5 341.1h0M182.3 340.1h0M182.5 337.9h0M182.8 338.7h0M184.1 340.7h0M184.4 341.8h0M184.6 339.1h0M184.9 338.4h0M185.1 339.7h0M185.9 340.5h0M186.2 340.8h0M186.7 338.7h0M187.3 338.3h0M187.8 340.9h0M188 340.8h0M188.6 342.1h0M188.8 342.3h0M189.4 341.8h0" stroke="#2c7a3c" stroke-width="1.90" stroke-linecap="round" fill="none"/>
<path d="M26.6 330.7h0M27.2 336.4h0M27.7 333.4h0M28.5 336.4h0M28.7 344.5h0M29 336.8h0M30.1 344.2h0M31.6 343.2h0M31.9 342.8h0M32.2 342.9h0M33.2 344.8h0M34 337h0M34.3 348h0M35.1 347.1h0M36.6 342.8h0M37.4 336.2h0M39.8 343h0M40.3 337.2h0M41.6 344.1h0M41.9 336.2h0M42.2 336.3h0M42.7 344.9h0M42.9 343.3h0M43.5 348.6h0M44.3 333.5h0M45 347.8h0M45.3 346.6h0M46.4 345.2h0M46.6 342.5h0M46.9 344.8h0M47.1 343.2h0M47.4 333.7h0M47.9 337.5h0M49.5 344.3h0M49.8 337h0M50 343.3h0M50.3 337.1h0M50.6 344.1h0M51.1 336.2h0M51.6 337h0M51.9 344h0M52.7 348.5h0M53.7 342.9h0M54 334.7h0M55.6 342.8h0M56.9 346h0M57.1 331.1h0M57.4 334.8h0M57.7 345.3h0M58.5 335.7h0M61.1 334.9h0M61.6 344.2h0M62.1 342.5h0M62.7 334.2h0M63.2 337h0M63.4 343.7h0M63.7 337.1h0M65 344.9h0M65.5 346h0M65.8 343h0M66.6 335.8h0M66.9 336.7h0M67.7 344h0M67.9 342.8h0M68.4 343.3h0M68.7 336.8h0M69.8 343.5h0M70.5 343.3h0M70.8 337.2h0M71.1 337.5h0M72.4 343.3h0M72.6 334.1h0M73.2 343h0M73.7 345.8h0M74.2 337h0M74.5 337.6h0M75 332.5h0M75.5 344.5h0M76.1 324.6h0M76.3 329.3h0M76.6 343.7h0M77.9 345.8h0M78.2 350.8h0M78.7 344.4h0M79.5 337.3h0M80.3 342.6h0M80.8 343.6h0M81.1 331.5h0M81.3 337.1h0M81.6 329.4h0M83.9 347.7h0M84.2 335.8h0M86.6 336.9h0M86.8 345.6h0M87.4 336.2h0M88.2 329.5h0M89.2 343.6h0M89.5 336.7h0M89.7 337.4h0M90 335h0M90.5 337.2h0M92.6 336.4h0M92.9 343.3h0M93.7 332.5h0M93.9 343.4h0M94.2 343.9h0M95 337h0M95.3 336.4h0M96 344.5h0M96.6 346.3h0M98.1 336.7h0M98.9 345.7h0M99.2 344.3h0M99.7 344.6h0M100 342.5h0M100.5 335.6h0M101.3 343h0M101.6 334.8h0M101.8 343.3h0M102.1 342.9h0M102.6 337.6h0M102.9 337.1h0M103.1 333.6h0M103.4 343h0M103.7 342.9h0M104.2 343.8h0M104.5 336.3h0M104.7 336.8h0M105 336h0M105.2 345.8h0M105.5 342.8h0M106.3 337.5h0M106.6 337.6h0M108.1 337.2h0M108.4 342.9h0M108.9 336.9h0M109.4 343.8h0M109.7 342.5h0M110.5 348.4h0M111.5 345.4h0M111.8 336h0M112.3 343.2h0M112.6 336.8h0M113.1 342.8h0M113.7 328.9h0M113.9 343.8h0M114.2 342.7h0M114.4 337.4h0M115.2 336.2h0M115.5 343.9h0M115.8 345.6h0M116.3 343h0M116.5 344.8h0M117.1 329.8h0M117.3 333.4h0M117.9 346.9h0M118.6 346.3h0M118.9 349.9h0M119.7 342.8h0M120.2 335.7h0M120.5 336h0M120.7 343.8h0M121 334.5h0M121.8 334.1h0M122.1 344.6h0M122.3 342.5h0M122.6 346.5h0M125 337.2h0M125.5 329.5h0M126.3 334.9h0M127.3 342.7h0M127.8 336.2h0M128.1 336.9h0M129.2 333.6h0M129.7 333.2h0M130.2 342.8h0M130.5 332.7h0M130.7 345.8h0M131 337h0M131.5 343h0M132.6 331.9h0M134.2 337.5h0M134.4 335.4h0M134.7 345.8h0M136.3 343.2h0M136.8 342.8h0M137 347.4h0M137.3 336.2h0M137.8 337.6h0M138.1 336.9h0M139.1 337.6h0M139.7 342.6h0M139.9 343.6h0M140.7 327.6h0M141.5 337.2h0M142 336.8h0M142.3 342.7h0M142.6 343.9h0M143.9 332.4h0M144.4 336.8h0M144.7 343.5h0M145.2 357.1h0M145.5 327.9h0M146.2 337.3h0M146.5 336.6h0M146.8 332h0M147 335.4h0M147.3 327.4h0M147.6 337.2h0M148.1 337.2h0M148.6 344.4h0M149.9 352.1h0M150.2 345.5h0M150.5 333.5h0M151.2 346.3h0M152.3 334.3h0M153.1 335.6h0M153.6 335.6h0M153.9 337.5h0M154.1 349.7h0M154.4 336.8h0M154.9 342.5h0M157.3 337.5h0M157.5 325.8h0M157.8 336.8h0M158.1 336.9h0M158.6 342.9h0M159.4 343.1h0M160.7 346.6h0M161.8 344.4h0M162 333.8h0M162.8 332.2h0M163.6 337.1h0M164.6 342.7h0M164.9 348.1h0M165.2 336.5h0M165.4 336.4h0M166.7 342.8h0M167.5 336.9h0M168.3 342.4h0M168.9 343.7h0M169.6 346.1h0M170.4 348.6h0M171 331.4h0M171.2 334.3h0M171.5 347.3h0M171.7 337h0M172.8 336.6h0M173.1 335h0M174.1 343.7h0M174.4 329.6h0M175.2 343.8h0M175.7 342.5h0M176.2 343.3h0M177.5 328.5h0M177.8 333.7h0M178.1 335.6h0M178.6 350.2h0M179.1 336.6h0M179.9 343.1h0M180.2 337.3h0M180.4 345.2h0M180.7 348.2h0M180.9 347.3h0M181.2 348.3h0M181.7 337.2h0M182 337.6h0M183 347.2h0M183.3 336.4h0M183.6 331.1h0M183.8 344.9h0M185.4 347.3h0M185.7 346h0M186.5 343.4h0M187 348.6h0M187.5 336.1h0M188.3 333h0M189.1 342.5h0M48.3 327h0M61 357.8h0M45 353h0M50 325h0M57 329h0M66 350h0M74 328h0M92 326h0M97 322h0M100 353h0M103 351h0M110 331h0M115 326h0M130 355h0M136 326h0M140 350h0M150 330h0M158 346h0M170 336h0M185 345h0" stroke="#2b6236" stroke-width="1.90" stroke-linecap="round" fill="none"/>
<path d="M38.5 340V384M40.5 340V313.3M78.5 340V318.3M82.5 340V374.3M86.5 340V305.1M105.5 340V359.8M122.5 340V371.6M126.5 340V312.2M164.5 340V314.3M166.5 340V313.8M177.5 340V308.5M181.5 340V313.8M188.5 340V287M179.5 340V353.9" stroke="#985540" stroke-width="0.8" fill="none"/>
<path d="M38.5 384h0M40.5 313.3h0M78.5 318.3h0M82.5 374.3h0M86.5 305.1h0M105.5 359.8h0M122.5 371.6h0M126.5 312.2h0M164.5 314.3h0M166.5 313.8h0M177.5 308.5h0M181.5 313.8h0M188.5 287h0M179.5 353.9h0" stroke="#4a2a1e" stroke-width="2.0" stroke-linecap="round" fill="none"/>
<path d="M184.8 282.5V389.5" class="bl"/>
<path d="M188.2 282.5V389.5" class="bl"/>
</g>
<rect x="18.5" y="282.5" width="179.0" height="107.0" fill="none" stroke="#777" stroke-width="0.9"/>
<path d="M17.2 289.3H18.5" class="tk"/><text x="16.0" y="290.7" text-anchor="end" class="t">0.4</text>
<path d="M17.2 302.1H18.5" class="tk"/><text x="16.0" y="303.5" text-anchor="end" class="t">0.3</text>
<path d="M17.2 314.9H18.5" class="tk"/><text x="16.0" y="316.3" text-anchor="end" class="t">0.2</text>
<path d="M17.2 327.7H18.5" class="tk"/><text x="16.0" y="329.1" text-anchor="end" class="t">0.1</text>
<path d="M17.2 340.5H18.5" class="tk"/><text x="16.0" y="341.9" text-anchor="end" class="t">0.0</text>
<path d="M17.2 353.3H18.5" class="tk"/><text x="16.0" y="354.7" text-anchor="end" class="t">−0.1</text>
<path d="M17.2 366.1H18.5" class="tk"/><text x="16.0" y="367.5" text-anchor="end" class="t">−0.2</text>
<path d="M17.2 378.9H18.5" class="tk"/><text x="16.0" y="380.3" text-anchor="end" class="t">−0.3</text>
<path d="M25.6 389.5v1.3" class="tk"/><text transform="translate(26.9,391.7) rotate(-90)" text-anchor="end" class="t xt">15:18</text>
<path d="M27.3 389.5v1.3" class="tk"/><text transform="translate(28.6,391.7) rotate(-90)" text-anchor="end" class="t xt">15:18</text>
<path d="M35.8 389.5v1.3" class="tk"/><text transform="translate(37.0,391.7) rotate(-90)" text-anchor="end" class="t xt">15:18</text>
<path d="M37.4 389.5v1.3" class="tk"/><text transform="translate(38.6,391.7) rotate(-90)" text-anchor="end" class="t xt">15:18</text>
<path d="M45.7 389.5v1.3" class="tk"/><text transform="translate(47.0,391.7) rotate(-90)" text-anchor="end" class="t xt">15:18</text>
<path d="M51.6 389.5v1.3" class="tk"/><text transform="translate(52.9,391.7) rotate(-90)" text-anchor="end" class="t xt">15:18</text>
<path d="M56.3 389.5v1.3" class="tk"/><text transform="translate(57.5,391.7) rotate(-90)" text-anchor="end" class="t xt">15:18</text>
<path d="M69.7 389.5v1.3" class="tk"/><text transform="translate(71.0,391.7) rotate(-90)" text-anchor="end" class="t xt">15:18</text>
<path d="M76.3 389.5v1.3" class="tk"/><text transform="translate(77.5,391.7) rotate(-90)" text-anchor="end" class="t xt">15:18</text>
<path d="M89.3 389.5v1.3" class="tk"/><text transform="translate(90.5,391.7) rotate(-90)" text-anchor="end" class="t xt">15:18</text>
<path d="M97.1 389.5v1.3" class="tk"/><text transform="translate(98.3,391.7) rotate(-90)" text-anchor="end" class="t xt">15:18</text>
<path d="M107.2 389.5v1.3" class="tk"/><text transform="translate(108.5,391.7) rotate(-90)" text-anchor="end" class="t xt">15:18</text>
<path d="M121.1 389.5v1.3" class="tk"/><text transform="translate(122.3,391.7) rotate(-90)" text-anchor="end" class="t xt">15:18</text>
<path d="M125.3 389.5v1.3" class="tk"/><text transform="translate(126.5,391.7) rotate(-90)" text-anchor="end" class="t xt">15:18</text>
<path d="M129.8 389.5v1.3" class="tk"/><text transform="translate(131.1,391.7) rotate(-90)" text-anchor="end" class="t xt">15:18</text>
<path d="M131.8 389.5v1.3" class="tk"/><text transform="translate(133.1,391.7) rotate(-90)" text-anchor="end" class="t xt">15:18</text>
<path d="M134.7 389.5v1.3" class="tk"/><text transform="translate(135.9,391.7) rotate(-90)" text-anchor="end" class="t xt">15:18</text>
<path d="M148.4 389.5v1.3" class="tk"/><text transform="translate(149.7,391.7) rotate(-90)" text-anchor="end" class="t xt">15:18</text>
<path d="M157.1 389.5v1.3" class="tk"/><text transform="translate(158.3,391.7) rotate(-90)" text-anchor="end" class="t xt">15:18</text>
<path d="M165 389.5v1.3" class="tk"/><text transform="translate(166.2,391.7) rotate(-90)" text-anchor="end" class="t xt">15:18</text>
<path d="M168.2 389.5v1.3" class="tk"/><text transform="translate(169.4,391.7) rotate(-90)" text-anchor="end" class="t xt">15:18</text>
<path d="M173.9 389.5v1.3" class="tk"/><text transform="translate(175.2,391.7) rotate(-90)" text-anchor="end" class="t xt">15:18</text>
<path d="M183.1 389.5v1.3" class="tk"/><text transform="translate(184.3,391.7) rotate(-90)" text-anchor="end" class="t xt">28 8:32</text>
<path d="M184.9 389.5v1.3" class="tk"/><text transform="translate(186.2,391.7) rotate(-90)" text-anchor="end" class="t xt">28 8:33</text>
<path d="M186.8 389.5v1.3" class="tk"/><text transform="translate(188.1,391.7) rotate(-90)" text-anchor="end" class="t xt">28 8:34</text>
<text x="108.0" y="280.6" text-anchor="middle" class="ti">AGX_2022-7-29 8:32</text>
<text x="108.0" y="409.5" text-anchor="middle" class="t">datetime</text>
<text transform="translate(6.2,336.0) rotate(-90)" text-anchor="middle" class="t">BS_volume</text>
<rect x="19.5" y="283.5" width="45.0" height="10.9" fill="#fff" fill-opacity="0.95" stroke="#d8d8d8" stroke-width="0.4" rx="0.8"/>
<path d="M21.1 286.4h6.2" class="bl"/><path d="M21.1 291.7h6.2" class="th"/>
<text x="30.5" y="287.6" class="t">2022-7-28 8:32</text>
<text x="30.5" y="292.9" class="t">anomalous volumes</text>
<clipPath id="cp6"><rect x="218.5" y="282.5" width="179.0" height="107.0"/></clipPath>
<g clip-path="url(#cp6)">
<rect x="240" y="282.5" width="8.3" height="107.0" fill="#fef7fa"/>
<rect x="254.7" y="282.5" width="7.6" height="107.0" fill="#fef7fa"/>
<rect x="226" y="320" width="164.0" height="22.0" fill="#dff9ef"/>
<rect x="238" y="318" width="37.0" height="32.0" fill="#dff9ef"/>
<path d="M226.6 308.9H389.4" class="th" style="stroke:#dcd68e"/>
<path d="M226.6 352.2H389.4" class="th" style="stroke:#dcd68e"/>
<path d="M227.4 330.7V334.5M229.2 330.7V333.6M229.4 330.7V326.3M229.9 330.7V327.9M230.9 330.7V334.8M232.2 330.7V322M232.9 330.7V335M233.7 330.7V327.4M233.9 330.7V324.8M235.9 330.7V333.5M236.9 330.7V315.3M237.2 330.7V333.4M238.2 330.7V333.3M238.7 330.7V334.6M239.4 330.7V341.6M239.7 330.7V324.9M239.9 330.7V335.3M240.4 330.7V326.6M240.9 330.7V325.3M241.2 330.7V334.6M241.4 330.7V322.9M241.7 330.7V335.8M241.9 330.7V322.9M242.2 330.7V335.8M242.4 330.7V326.5M242.7 330.7V339M242.9 330.7V327.5M243.7 330.7V326.8M243.9 330.7V346.4M244.2 330.7V336.3M244.4 330.7V324.9M244.9 330.7V327.1M245.2 330.7V322.6M245.4 330.7V338.1M245.7 330.7V314.8M245.9 330.7V326.1M246.2 330.7V340.1M246.5 330.7V328.1M247 330.7V322.6M247.2 330.7V337M247.5 330.7V325.8M248.2 330.7V326.5M248.5 330.7V333.7M249.2 330.7V334.5M249.5 330.7V326.4M249.7 330.7V326.9M250 330.7V327.2M250.2 330.7V338.9M251 330.7V326.5M251.2 330.7V326.8M251.5 330.7V333.6M251.7 330.7V324.9M252 330.7V333.4M252.2 330.7V317.6M252.5 330.7V318.9M252.7 330.7V338.2M253 330.7V321.6M253.5 330.7V341.2M254.5 330.7V335.3M254.7 330.7V338.2M255 330.7V338.2M255.2 330.7V333.5M255.7 330.7V326.2M256 330.7V342M256.5 330.7V335.3M256.7 330.7V337.3M257 330.7V335.8M257.2 330.7V334.5M257.5 330.7V321.6M257.7 330.7V325.9M258 330.7V347.2M258.2 330.7V338.7M258.5 330.7V347.6M259 330.7V325.2M259.2 330.7V344.2M259.5 330.7V339.7M259.7 330.7V326.2M260 330.7V341.3M260.2 330.7V322.2M260.7 330.7V339.4M261 330.7V325.5M261.2 330.7V322.3M261.5 330.7V324.4M261.7 330.7V325.3M262 330.7V327.6M262.5 330.7V334.3M263 330.7V336.4M263.2 330.7V336.8M263.5 330.7V335.1M263.7 330.7V339.7M264 330.7V326.8M264.3 330.7V324.5M264.5 330.7V341.3M264.8 330.7V336.5M265 330.7V317.3M265.3 330.7V322.2M265.5 330.7V336M265.8 330.7V334.2M266.5 330.7V334.6M266.8 330.7V338.8M267 330.7V326.5M267.3 330.7V313.3M267.5 330.7V333.8M267.8 330.7V319.3M268 330.7V328M268.3 330.7V341.1M268.5 330.7V325.8M268.8 330.7V327.5M269 330.7V334.4M269.3 330.7V320.9M269.5 330.7V336.8M270.3 330.7V335.5M270.8 330.7V338.3M271 330.7V325.3M271.3 330.7V327.7M271.5 330.7V323.3M271.8 330.7V337.5M272 330.7V326.6M272.3 330.7V324.4M272.5 330.7V323.6M273 330.7V321.2M273.3 330.7V322.5M273.8 330.7V319.3M274.5 330.7V327M275.3 330.7V326.7M276.5 330.7V345.3M278.3 330.7V318.2M278.5 330.7V333.5M278.8 330.7V327M279.8 330.7V327.7M280.3 330.7V338.7M281 330.7V326.7M282.3 330.7V326.1M283.1 330.7V327.6M285.8 330.7V333.6M286.3 330.7V325.5M286.8 330.7V334M287.8 330.7V338.7M288.3 330.7V333.5M288.8 330.7V333.6M289.1 330.7V334.8M289.3 330.7V327.9M290.6 330.7V333.3M290.8 330.7V328.1M291.3 330.7V334.1M293.8 330.7V336.5M296.1 330.7V336.1M297.6 330.7V326.2M299.1 330.7V336.3M302.1 330.7V323.8M302.9 330.7V322.4M303.6 330.7V322.2M306.9 330.7V325.6M307.4 330.7V342.2M307.6 330.7V327.1M308.1 330.7V326.8M309.1 330.7V328.1M309.6 330.7V322.3M309.9 330.7V317.3M310.6 330.7V324.8M311.6 330.7V326.9M312.4 330.7V333.3M312.6 330.7V313.5M313.4 330.7V334.8M313.9 330.7V333.9M315.1 330.7V327.7M315.9 330.7V338.9M322.4 330.7V333.3M324.7 330.7V323.1M324.9 330.7V335.9M325.2 330.7V324.9M325.4 330.7V327.7M325.7 330.7V327M326.7 330.7V325.8M327.2 330.7V338.2M327.4 330.7V333.8M327.9 330.7V322.8M329.2 330.7V333.3M330.4 330.7V323.5M330.9 330.7V326.6M332.4 330.7V334M333.7 330.7V342.5M334.7 330.7V335.8M336 330.7V328M336.5 330.7V327.8M339.5 330.7V333.7M340.7 330.7V323.2M342.2 330.7V334.1M344.2 330.7V327.3M344.7 330.7V334.6M345.5 330.7V333.8M345.7 330.7V325.4M347 330.7V334.9M348.5 330.7V323.9M348.7 330.7V326.3M349.2 330.7V333.6M351.2 330.7V327M352 330.7V333.7M352.5 330.7V323.8M353 330.7V327.6M353.3 330.7V323.8M354.3 330.7V334.9M355.5 330.7V327.1M356 330.7V327.8M356.3 330.7V328M358.5 330.7V327.4M359.8 330.7V334.5M360.5 330.7V327.7M361 330.7V325.6M361.8 330.7V327.5M362 330.7V325.2M362.3 330.7V327.5M364.5 330.7V328M365 330.7V320.8M365.5 330.7V336.2M366.3 330.7V328M367 330.7V335.9M367.8 330.7V327.6M368 330.7V335.1M369.8 330.7V334.8M371.3 330.7V320.4M372.6 330.7V339.3M372.8 330.7V334M373.8 330.7V327.6M375.1 330.7V339M376.3 330.7V327.9M378.6 330.7V327M379.3 330.7V327.9M379.8 330.7V346.3M384.1 330.7V324.2M384.8 330.7V336.3M385.1 330.7V338.7M385.8 330.7V325M388.6 330.7V333.5M389.4 330.7V334.2M240 330.7V324.9M240.4 330.7V334.8M240.8 330.7V327.3M241.2 330.7V322.3M241.6 330.7V332M242 330.7V316.6M242.4 330.7V326.5M242.8 330.7V338.1M243.2 330.7V331M243.6 330.7V325.9M244 330.7V354.5M244.4 330.7V331M244.8 330.7V323.9M245.2 330.7V332.2M245.6 330.7V324.6M246 330.7V326.2M246.4 330.7V326.5M246.8 330.7V352.7M247.2 330.7V330.6M247.6 330.7V332.3M248 330.7V337.8M248.4 330.7V352.6M248.8 330.7V327.9M249.2 330.7V323.5M249.6 330.7V357.6M250 330.7V314.3M250.4 330.7V326.4M250.8 330.7V337.7M251.2 330.7V355.5M251.6 330.7V320M252 330.7V303.7M252.4 330.7V337.7M252.8 330.7V324.7M253.2 330.7V326.1M253.6 330.7V335.5M254 330.7V332.9M254.4 330.7V333.6M254.8 330.7V325.7M255.2 330.7V344.6M255.6 330.7V347M256 330.7V330.8M256.4 330.7V325.4M256.8 330.7V338.5M257.2 330.7V335.7M257.6 330.7V319M258 330.7V325.3M258.4 330.7V341.9M258.8 330.7V329.3M259.2 330.7V326.8M259.6 330.7V332.7M260 330.7V330M260.4 330.7V330.4M260.8 330.7V309.2M261.2 330.7V349.6M261.6 330.7V332.6M262 330.7V320.8M262.4 330.7V341.2M262.8 330.7V333.8M263.2 330.7V330.6M263.6 330.7V341.9M255 330.7V352.7M255.4 330.7V337.4M255.8 330.7V346.7M256.2 330.7V351.8M256.6 330.7V323.2M257 330.7V327.7M257.4 330.7V339.4M257.8 330.7V317M258.2 330.7V330M258.6 330.7V344M259 330.7V341.8M259.4 330.7V337.6M259.8 330.7V315.3M260.2 330.7V353.6M260.6 330.7V337.4M261 330.7V339.3M261.4 330.7V336.9M261.8 330.7V317M262.2 330.7V319.5M262.6 330.7V321.5M263 330.7V349.7M263.4 330.7V324.9M263.8 330.7V330.2M264.2 330.7V330.1M264.6 330.7V337.5M265 330.7V336.9M265.4 330.7V334.8M265.8 330.7V321M266.2 330.7V304.2M266.6 330.7V333.9M295.4 330.7V308M225 330.7V343M230 330.7V322M270 330.7V343M272 330.7V350M280 330.7V323M287 330.7V323M298 330.7V318M302 330.7V345M314 330.7V322M322 330.7V338M330 330.7V348M336 330.7V322M343 330.7V323M352 330.7V313M356 330.7V344M361 330.7V320M369 330.7V344M371 330.7V318M385 330.7V320M387 330.7V308M389 330.7V342M376 330.7V336" stroke="#4f8c5e" stroke-width="0.6" fill="none"/>
<rect x="225.8" y="328.80" width="164.3" height="3.8" fill="#2a7a3c"/>
<path d="M226.6 332.5h0M226.9 331.6h0M227.1 330.6h0M227.6 332.7h0M227.9 329.7h0M228.1 330.9h0M228.4 330h0M228.7 330.4h0M228.9 328.6h0M229.7 330h0M230.2 329.8h0M230.4 332.7h0M230.7 332h0M231.2 331.2h0M231.4 328.8h0M231.7 331.6h0M231.9 330.8h0M232.4 328.8h0M232.7 331.7h0M233.2 328.3h0M233.4 332h0M234.2 331.4h0M234.4 332.1h0M234.7 331.4h0M234.9 329h0M235.2 331.2h0M235.4 331.7h0M235.7 332h0M236.2 333.1h0M236.4 332.4h0M236.7 330.1h0M237.4 330.9h0M237.7 331.5h0M237.9 330.6h0M238.4 332.9h0M238.9 331.7h0M239.2 331.2h0M240.2 328.5h0M240.7 333h0M243.2 329.7h0M243.4 328.3h0M244.7 330.7h0M246.7 328.5h0M247.7 331.3h0M248 329.1h0M248.7 328.3h0M249 331.9h0M250.5 331.8h0M250.7 330h0M253.2 330.3h0M253.7 330.5h0M254 331.3h0M254.2 332.2h0M255.5 329h0M256.2 329.3h0M258.7 330.8h0M260.5 331.5h0M262.2 330.8h0M262.7 330.5h0M266 329.9h0M266.3 330.3h0M269.8 332.6h0M270 332.5h0M270.5 331.2h0M272.8 328.5h0M273.5 331.3h0M274 329.1h0M274.3 329.5h0M274.8 329.5h0M275 331.1h0M275.5 329.7h0M275.8 331.4h0M276 331.3h0M276.3 329.6h0M276.8 329.2h0M277 331h0M277.3 330.2h0M277.5 332.9h0M277.8 330.8h0M278 332.5h0M279 333.2h0M279.3 329.7h0M279.5 331.6h0M280 330h0M280.5 331.6h0M280.8 330.4h0M281.3 333h0M281.6 330.9h0M281.8 331.8h0M282.1 330.4h0M282.6 329.5h0M282.8 331.2h0M283.3 333h0M283.6 328.8h0M283.8 332.8h0M284.1 332.1h0M284.3 330.5h0M284.6 330.6h0M284.8 329h0M285.1 330.7h0M285.3 330.4h0M285.6 331.1h0M286.1 328.7h0M286.6 329.9h0M287.1 330.2h0M287.3 332.7h0M287.6 330.5h0M288.1 328.6h0M288.6 329h0M289.6 330h0M289.8 332.5h0M290.1 328.6h0M290.3 332.1h0M291.1 328.8h0M291.6 328.2h0M291.8 328.8h0M292.1 332.4h0M292.3 331.2h0M292.6 329.7h0M292.8 329.5h0M293.1 331.1h0M293.3 328.6h0M293.6 329h0M294.1 329.4h0M294.3 328.9h0M294.6 332.3h0M294.8 331.1h0M295.1 331.5h0M295.3 332.1h0M295.6 329.6h0M295.8 332.7h0M296.3 329.1h0M296.6 333.1h0M296.8 330.7h0M297.1 329.9h0M297.3 328.7h0M297.8 331.1h0M298.1 329.7h0M298.3 329.4h0M298.6 329.3h0M298.8 332.4h0M299.4 329.9h0M299.6 330.5h0M299.9 331.6h0M300.1 330.9h0M300.4 330.9h0M300.6 328.7h0M300.9 330.7h0M301.1 331.2h0M301.4 329h0M301.6 331.5h0M301.9 332.8h0M302.4 328.8h0M302.6 328.5h0M303.1 332.5h0M303.4 332.7h0M303.9 330.1h0M304.1 331.2h0M304.4 333h0M304.6 332.4h0M304.9 328.7h0M305.1 329.9h0M305.4 332.2h0M305.6 329.3h0M305.9 332.4h0M306.1 332h0M306.4 331.3h0M306.6 330.8h0M307.1 330.6h0M307.9 331.2h0M308.4 330.9h0M308.6 330.2h0M308.9 332.6h0M309.4 329.2h0M310.1 332.2h0M310.4 329.3h0M310.9 331.3h0M311.1 331.7h0M311.4 332.3h0M311.9 331.1h0M312.1 331.9h0M312.9 329.1h0M313.1 331.9h0M313.6 328.5h0M314.1 329.8h0M314.4 330.5h0M314.6 330.5h0M314.9 331.4h0M315.4 332.3h0M315.6 332.2h0M316.1 331.3h0M316.4 330.1h0M316.6 330.3h0M316.9 329h0M317.2 330.8h0M317.4 331.2h0M317.7 330.8h0M317.9 332.3h0M318.2 329.9h0M318.4 330.4h0M318.7 328.9h0M318.9 328.4h0M319.2 329.1h0M319.4 330.2h0M319.7 332.1h0M319.9 332.6h0M320.2 331.1h0M320.4 331.2h0M320.7 331.6h0M320.9 331.2h0M321.2 329h0M321.4 332.3h0M321.7 329h0M321.9 328.4h0M322.2 329.7h0M322.7 329.9h0M322.9 331.7h0M323.2 328.7h0M323.4 329.8h0M323.7 332.5h0M323.9 331.2h0M324.2 332.5h0M324.4 330h0M325.9 330.4h0M326.2 330.4h0M326.4 331.7h0M326.9 330.2h0M327.7 328.3h0M328.2 330.8h0M328.4 333.2h0M328.7 329.4h0M328.9 330.8h0M329.4 330.8h0M329.7 331.3h0M329.9 330.2h0M330.2 330.7h0M330.7 333.1h0M331.2 331.1h0M331.4 330.6h0M331.7 331.8h0M331.9 330.1h0M332.2 328.8h0M332.7 328.3h0M332.9 331.9h0M333.2 330.8h0M333.4 330h0M333.9 330.4h0M334.2 328.6h0M334.4 328.4h0M335 329.9h0M335.2 329.7h0M335.5 331.4h0M335.7 329.9h0M336.2 330.8h0M336.7 330.1h0M337 330.7h0M337.2 332.5h0M337.5 332.4h0M337.7 329h0M338 331.5h0M338.2 328.6h0M338.5 332h0M338.7 331.5h0M339 332.1h0M339.2 332h0M339.7 332.7h0M340 329.2h0M340.2 331.5h0M340.5 332.6h0M341 331.5h0M341.2 331h0M341.5 332.1h0M341.7 330.3h0M342 332.8h0M342.5 329.5h0M342.7 330.1h0M343 328.4h0M343.2 329.9h0M343.5 331.1h0M343.7 330.3h0M344 328.5h0M344.5 329.4h0M345 332.6h0M345.2 330.4h0M346 332.5h0M346.2 330.3h0M346.5 332.6h0M346.7 331.9h0M347.2 331.3h0M347.5 329.4h0M347.7 331.4h0M348 332.8h0M348.2 332.4h0M349 331.5h0M349.5 329.4h0M349.7 329.6h0M350 332.1h0M350.2 328.8h0M350.5 329.3h0M350.7 331.9h0M351 332.1h0M351.5 328.6h0M351.7 330.1h0M352.3 331.1h0M352.8 330.5h0M353.5 331.4h0M353.8 331.3h0M354 331.7h0M354.5 332.3h0M354.8 330.1h0M355 332.4h0M355.3 330.1h0M355.8 330.8h0M356.5 330.3h0M356.8 331.7h0M357 331.8h0M357.3 328.4h0M357.5 332.8h0M357.8 333h0M358 329.4h0M358.3 333.1h0M358.8 329.2h0M359 332.2h0M359.3 329.2h0M359.5 331.3h0M360 331h0M360.3 329.9h0M360.8 332.3h0M361.3 331.1h0M361.5 331.1h0M362.5 329.7h0M362.8 332.9h0M363 329.4h0M363.3 330.4h0M363.5 332.6h0M363.8 330.4h0M364 330.8h0M364.3 332.2h0M364.8 332h0M365.3 331.1h0M365.8 328.9h0M366 328.4h0M366.5 329.1h0M366.8 329.1h0M367.3 329.3h0M367.5 329h0M368.3 332h0M368.5 329.8h0M368.8 332.5h0M369 330.2h0M369.3 329.8h0M369.5 331.7h0M370.1 328.8h0M370.3 329.6h0M370.6 328.6h0M370.8 331.4h0M371.1 328.9h0M371.6 331.7h0M371.8 331.1h0M372.1 329.1h0M372.3 328.3h0M373.1 329.9h0M373.3 331.9h0M373.6 330.4h0M374.1 330.2h0M374.3 329.6h0M374.6 329.8h0M374.8 330.6h0M375.3 331.9h0M375.6 331.9h0M375.8 330h0M376.1 332.4h0M376.6 330.4h0M376.8 331.9h0M377.1 328.5h0M377.3 328.4h0M377.6 328.4h0M377.8 333.1h0M378.1 332.1h0M378.3 332.2h0M378.8 331.2h0M379.1 328.4h0M379.6 330.7h0M380.1 331.2h0M380.3 330.9h0M380.6 330.6h0M380.8 329.2h0M381.1 328.5h0M381.3 332.8h0M381.6 330.3h0M381.8 328.3h0M382.1 329.2h0M382.3 328.7h0M382.6 328.6h0M382.8 328.5h0M383.1 330.4h0M383.3 329h0M383.6 330.5h0M383.8 329.3h0M384.3 332.7h0M384.6 332.2h0M385.3 329.7h0M385.6 329.3h0M386.1 332h0M386.3 332.3h0M386.6 328.7h0M386.8 331.1h0M387.1 328.7h0M387.3 331.9h0M387.6 330h0M387.9 330h0M388.1 330h0M388.4 331.3h0M388.9 332.5h0M389.1 331h0" stroke="#2a7a3c" stroke-width="1.90" stroke-linecap="round" fill="none"/>
<path d="M227.4 334.5h0M229.2 333.6h0M229.4 326.3h0M229.9 327.9h0M230.9 334.8h0M232.2 322h0M232.9 335h0M233.7 327.4h0M233.9 324.8h0M235.9 333.5h0M236.9 315.3h0M237.2 333.4h0M238.2 333.3h0M238.7 334.6h0M239.4 341.6h0M239.7 324.9h0M239.9 335.3h0M240.4 326.6h0M240.9 325.3h0M241.2 334.6h0M241.4 322.9h0M241.7 335.8h0M241.9 322.9h0M242.2 335.8h0M242.4 326.5h0M242.7 339h0M242.9 327.5h0M243.7 326.8h0M243.9 346.4h0M244.2 336.3h0M244.4 324.9h0M244.9 327.1h0M245.2 322.6h0M245.4 338.1h0M245.7 314.8h0M245.9 326.1h0M246.2 340.1h0M246.5 328.1h0M247 322.6h0M247.2 337h0M247.5 325.8h0M248.2 326.5h0M248.5 333.7h0M249.2 334.5h0M249.5 326.4h0M249.7 326.9h0M250 327.2h0M250.2 338.9h0M251 326.5h0M251.2 326.8h0M251.5 333.6h0M251.7 324.9h0M252 333.4h0M252.2 317.6h0M252.5 318.9h0M252.7 338.2h0M253 321.6h0M253.5 341.2h0M254.5 335.3h0M254.7 338.2h0M255 338.2h0M255.2 333.5h0M255.7 326.2h0M256 342h0M256.5 335.3h0M256.7 337.3h0M257 335.8h0M257.2 334.5h0M257.5 321.6h0M257.7 325.9h0M258 347.2h0M258.2 338.7h0M258.5 347.6h0M259 325.2h0M259.2 344.2h0M259.5 339.7h0M259.7 326.2h0M260 341.3h0M260.2 322.2h0M260.7 339.4h0M261 325.5h0M261.2 322.3h0M261.5 324.4h0M261.7 325.3h0M262 327.6h0M262.5 334.3h0M263 336.4h0M263.2 336.8h0M263.5 335.1h0M263.7 339.7h0M264 326.8h0M264.3 324.5h0M264.5 341.3h0M264.8 336.5h0M265 317.3h0M265.3 322.2h0M265.5 336h0M265.8 334.2h0M266.5 334.6h0M266.8 338.8h0M267 326.5h0M267.3 313.3h0M267.5 333.8h0M267.8 319.3h0M268 328h0M268.3 341.1h0M268.5 325.8h0M268.8 327.5h0M269 334.4h0M269.3 320.9h0M269.5 336.8h0M270.3 335.5h0M270.8 338.3h0M271 325.3h0M271.3 327.7h0M271.5 323.3h0M271.8 337.5h0M272 326.6h0M272.3 324.4h0M272.5 323.6h0M273 321.2h0M273.3 322.5h0M273.8 319.3h0M274.5 327h0M275.3 326.7h0M276.5 345.3h0M278.3 318.2h0M278.5 333.5h0M278.8 327h0M279.8 327.7h0M280.3 338.7h0M281 326.7h0M282.3 326.1h0M283.1 327.6h0M285.8 333.6h0M286.3 325.5h0M286.8 334h0M287.8 338.7h0M288.3 333.5h0M288.8 333.6h0M289.1 334.8h0M289.3 327.9h0M290.6 333.3h0M290.8 328.1h0M291.3 334.1h0M293.8 336.5h0M296.1 336.1h0M297.6 326.2h0M299.1 336.3h0M302.1 323.8h0M302.9 322.4h0M303.6 322.2h0M306.9 325.6h0M307.4 342.2h0M307.6 327.1h0M308.1 326.8h0M309.1 328.1h0M309.6 322.3h0M309.9 317.3h0M310.6 324.8h0M311.6 326.9h0M312.4 333.3h0M312.6 313.5h0M313.4 334.8h0M313.9 333.9h0M315.1 327.7h0M315.9 338.9h0M322.4 333.3h0M324.7 323.1h0M324.9 335.9h0M325.2 324.9h0M325.4 327.7h0M325.7 327h0M326.7 325.8h0M327.2 338.2h0M327.4 333.8h0M327.9 322.8h0M329.2 333.3h0M330.4 323.5h0M330.9 326.6h0M332.4 334h0M333.7 342.5h0M334.7 335.8h0M336 328h0M336.5 327.8h0M339.5 333.7h0M340.7 323.2h0M342.2 334.1h0M344.2 327.3h0M344.7 334.6h0M345.5 333.8h0M345.7 325.4h0M347 334.9h0M348.5 323.9h0M348.7 326.3h0M349.2 333.6h0M351.2 327h0M352 333.7h0M352.5 323.8h0M353 327.6h0M353.3 323.8h0M354.3 334.9h0M355.5 327.1h0M356 327.8h0M356.3 328h0M358.5 327.4h0M359.8 334.5h0M360.5 327.7h0M361 325.6h0M361.8 327.5h0M362 325.2h0M362.3 327.5h0M364.5 328h0M365 320.8h0M365.5 336.2h0M366.3 328h0M367 335.9h0M367.8 327.6h0M368 335.1h0M369.8 334.8h0M371.3 320.4h0M372.6 339.3h0M372.8 334h0M373.8 327.6h0M375.1 339h0M376.3 327.9h0M378.6 327h0M379.3 327.9h0M379.8 346.3h0M384.1 324.2h0M384.8 336.3h0M385.1 338.7h0M385.8 325h0M388.6 333.5h0M389.4 334.2h0M240 324.9h0M240.4 334.8h0M240.8 327.3h0M241.2 322.3h0M241.6 332h0M242 316.6h0M242.4 326.5h0M242.8 338.1h0M243.2 331h0M243.6 325.9h0M244 354.5h0M244.4 331h0M244.8 323.9h0M245.2 332.2h0M245.6 324.6h0M246 326.2h0M246.4 326.5h0M246.8 352.7h0M247.2 330.6h0M247.6 332.3h0M248 337.8h0M248.4 352.6h0M248.8 327.9h0M249.2 323.5h0M249.6 357.6h0M250 314.3h0M250.4 326.4h0M250.8 337.7h0M251.2 355.5h0M251.6 320h0M252 303.7h0M252.4 337.7h0M252.8 324.7h0M253.2 326.1h0M253.6 335.5h0M254 332.9h0M254.4 333.6h0M254.8 325.7h0M255.2 344.6h0M255.6 347h0M256 330.8h0M256.4 325.4h0M256.8 338.5h0M257.2 335.7h0M257.6 319h0M258 325.3h0M258.4 341.9h0M258.8 329.3h0M259.2 326.8h0M259.6 332.7h0M260 330h0M260.4 330.4h0M260.8 309.2h0M261.2 349.6h0M261.6 332.6h0M262 320.8h0M262.4 341.2h0M262.8 333.8h0M263.2 330.6h0M263.6 341.9h0M255 352.7h0M255.4 337.4h0M255.8 346.7h0M256.2 351.8h0M256.6 323.2h0M257 327.7h0M257.4 339.4h0M257.8 317h0M258.2 330h0M258.6 344h0M259 341.8h0M259.4 337.6h0M259.8 315.3h0M260.2 353.6h0M260.6 337.4h0M261 339.3h0M261.4 336.9h0M261.8 317h0M262.2 319.5h0M262.6 321.5h0M263 349.7h0M263.4 324.9h0M263.8 330.2h0M264.2 330.1h0M264.6 337.5h0M265 336.9h0M265.4 334.8h0M265.8 321h0M266.2 304.2h0M266.6 333.9h0M295.4 308h0M225 343h0M230 322h0M270 343h0M272 350h0M280 323h0M287 323h0M298 318h0M302 345h0M314 322h0M322 338h0M330 348h0M336 322h0M343 323h0M352 313h0M356 344h0M361 320h0M369 344h0M371 318h0M385 320h0M387 308h0M389 342h0M376 336h0" stroke="#2b5a34" stroke-width="1.90" stroke-linecap="round" fill="none"/>
<path d="M246.5 330.7V287.3M256.5 330.7V290.4M256.5 330.7V384.5M243.5 330.7V300.5M245.5 330.7V303M249.5 330.7V306M251.5 330.7V312M259.5 330.7V345M261.5 330.7V357M264.5 330.7V315M253.5 330.7V348M247.5 330.7V343M241.5 330.7V313.9M243.5 330.7V314.3M244.5 330.7V321M246.5 330.7V298.3M247.5 330.7V328.4M256.5 330.7V353M257.5 330.7V341.4M259.5 330.7V332.4M260.5 330.7V344" stroke="#985540" stroke-width="0.8" fill="none"/>
<path d="M246.5 287.3h0M256.5 290.4h0M256.5 384.5h0M243.5 300.5h0M245.5 303h0M249.5 306h0M251.5 312h0M259.5 345h0M261.5 357h0M264.5 315h0M253.5 348h0M247.5 343h0M241.5 313.9h0M243.5 314.3h0M244.5 321h0M246.5 298.3h0M247.5 328.4h0M256.5 353h0M257.5 341.4h0M259.5 332.4h0M260.5 344h0" stroke="#4a2a1e" stroke-width="2.0" stroke-linecap="round" fill="none"/>
<path d="M380.3 282.5V389.5" class="bl"/>
<path d="M388.8 282.5V389.5" class="bl"/>
</g>
<rect x="218.5" y="282.5" width="179.0" height="107.0" fill="none" stroke="#777" stroke-width="0.9"/>
<path d="M217.2 290.1H218.5" class="tk"/><text x="216.0" y="291.5" text-anchor="end" class="t">0.6</text>
<path d="M217.2 303.6H218.5" class="tk"/><text x="216.0" y="305.0" text-anchor="end" class="t">0.4</text>
<path d="M217.2 317.1H218.5" class="tk"/><text x="216.0" y="318.5" text-anchor="end" class="t">0.2</text>
<path d="M217.2 330.6H218.5" class="tk"/><text x="216.0" y="332.0" text-anchor="end" class="t">0.0</text>
<path d="M217.2 344.1H218.5" class="tk"/><text x="216.0" y="345.5" text-anchor="end" class="t">−0.2</text>
<path d="M217.2 357.6H218.5" class="tk"/><text x="216.0" y="359.0" text-anchor="end" class="t">−0.4</text>
<path d="M217.2 371.1H218.5" class="tk"/><text x="216.0" y="372.5" text-anchor="end" class="t">−0.6</text>
<path d="M217.2 384.6H218.5" class="tk"/><text x="216.0" y="386.0" text-anchor="end" class="t">−0.8</text>
<path d="M225.6 389.5v1.3" class="tk"/><text transform="translate(226.8,391.7) rotate(-90)" text-anchor="end" class="t xt">15:18</text>
<path d="M229.6 389.5v1.3" class="tk"/><text transform="translate(230.8,391.7) rotate(-90)" text-anchor="end" class="t xt">15:18</text>
<path d="M235 389.5v1.3" class="tk"/><text transform="translate(236.2,391.7) rotate(-90)" text-anchor="end" class="t xt">15:18</text>
<path d="M239.8 389.5v1.3" class="tk"/><text transform="translate(241.1,391.7) rotate(-90)" text-anchor="end" class="t xt">15:18</text>
<path d="M253.9 389.5v1.3" class="tk"/><text transform="translate(255.2,391.7) rotate(-90)" text-anchor="end" class="t xt">15:18</text>
<path d="M265.7 389.5v1.3" class="tk"/><text transform="translate(266.9,391.7) rotate(-90)" text-anchor="end" class="t xt">15:18</text>
<path d="M275.8 389.5v1.3" class="tk"/><text transform="translate(277.1,391.7) rotate(-90)" text-anchor="end" class="t xt">15:18</text>
<path d="M284.6 389.5v1.3" class="tk"/><text transform="translate(285.9,391.7) rotate(-90)" text-anchor="end" class="t xt">15:18</text>
<path d="M292.8 389.5v1.3" class="tk"/><text transform="translate(294.1,391.7) rotate(-90)" text-anchor="end" class="t xt">15:18</text>
<path d="M302.3 389.5v1.3" class="tk"/><text transform="translate(303.6,391.7) rotate(-90)" text-anchor="end" class="t xt">15:18</text>
<path d="M305.8 389.5v1.3" class="tk"/><text transform="translate(307.1,391.7) rotate(-90)" text-anchor="end" class="t xt">15:18</text>
<path d="M308.7 389.5v1.3" class="tk"/><text transform="translate(309.9,391.7) rotate(-90)" text-anchor="end" class="t xt">15:18</text>
<path d="M311.2 389.5v1.3" class="tk"/><text transform="translate(312.4,391.7) rotate(-90)" text-anchor="end" class="t xt">15:18</text>
<path d="M317.4 389.5v1.3" class="tk"/><text transform="translate(318.6,391.7) rotate(-90)" text-anchor="end" class="t xt">15:18</text>
<path d="M322.3 389.5v1.3" class="tk"/><text transform="translate(323.6,391.7) rotate(-90)" text-anchor="end" class="t xt">15:18</text>
<path d="M329.8 389.5v1.3" class="tk"/><text transform="translate(331.1,391.7) rotate(-90)" text-anchor="end" class="t xt">15:18</text>
<path d="M334.7 389.5v1.3" class="tk"/><text transform="translate(335.9,391.7) rotate(-90)" text-anchor="end" class="t xt">15:18</text>
<path d="M340.9 389.5v1.3" class="tk"/><text transform="translate(342.1,391.7) rotate(-90)" text-anchor="end" class="t xt">15:18</text>
<path d="M346.7 389.5v1.3" class="tk"/><text transform="translate(347.9,391.7) rotate(-90)" text-anchor="end" class="t xt">15:18</text>
<path d="M352.1 389.5v1.3" class="tk"/><text transform="translate(353.4,391.7) rotate(-90)" text-anchor="end" class="t xt">15:18</text>
<path d="M357.6 389.5v1.3" class="tk"/><text transform="translate(358.9,391.7) rotate(-90)" text-anchor="end" class="t xt">15:18</text>
<path d="M362.5 389.5v1.3" class="tk"/><text transform="translate(363.8,391.7) rotate(-90)" text-anchor="end" class="t xt">15:18</text>
<path d="M369 389.5v1.3" class="tk"/><text transform="translate(370.2,391.7) rotate(-90)" text-anchor="end" class="t xt">15:18</text>
<path d="M374.4 389.5v1.3" class="tk"/><text transform="translate(375.6,391.7) rotate(-90)" text-anchor="end" class="t xt">15:18</text>
<path d="M379.6 389.5v1.3" class="tk"/><text transform="translate(380.9,391.7) rotate(-90)" text-anchor="end" class="t xt">11 8:19</text>
<path d="M385.6 389.5v1.3" class="tk"/><text transform="translate(386.9,391.7) rotate(-90)" text-anchor="end" class="t xt">15:18</text>
<path d="M387.5 389.5v1.3" class="tk"/><text transform="translate(388.8,391.7) rotate(-90)" text-anchor="end" class="t xt">11 8:21</text>
<text x="308.0" y="280.6" text-anchor="middle" class="ti">AGX_2022-8-11 8:19</text>
<text x="308.0" y="409.5" text-anchor="middle" class="t">datetime</text>
<text transform="translate(206.8,336.0) rotate(-90)" text-anchor="middle" class="t">BS_volume</text>
<rect x="350.9" y="283.5" width="45.3" height="10.9" fill="#fff" fill-opacity="0.95" stroke="#d8d8d8" stroke-width="0.4" rx="0.8"/>
<path d="M352.9 286.4h6.2" class="bl"/><path d="M352.9 291.7h6.2" class="th"/>
<text x="362.2" y="287.6" class="t">2022-8-11 8:19</text>
<text x="362.2" y="292.9" class="t">anomalous volumes</text>
<clipPath id="cp7"><rect x="17.5" y="420.5" width="179.0" height="107.0"/></clipPath>
<g clip-path="url(#cp7)">
<rect x="128" y="420.5" width="5.0" height="107.0" fill="#fef7fa"/>
<rect x="25.5" y="432.5" width="163.5" height="15.5" fill="#dff9ef"/>
<rect x="25.5" y="432.5" width="49.5" height="22.5" fill="#dff9ef"/>
<path d="M25.6 425.0H188.4" class="th" style="stroke:#dcd68e"/>
<path d="M25.6 458.5H188.4" class="th" style="stroke:#dcd68e"/>
<path d="M27.5 442V446M28.2 442V439M30 442V435.9M31 442V435.8M32.2 442V430.7M33.8 442V449.7M34.4 442V445.4M34.7 442V445.1M35.4 442V453.2M36.3 442V445.7M36.6 442V454.8M37.9 442V453.7M38.2 442V446M38.8 442V438.7M39.1 442V445.1M40.7 442V451.3M43.8 442V445.2M44.5 442V445.2M45.1 442V435.4M46.6 442V434.8M47.3 442V433.5M50.1 442V452.2M50.4 442V435.9M51 442V446.7M52.3 442V438.6M52.6 442V436.9M58.9 442V445.8M59.2 442V448.1M62.6 442V450.6M63.3 442V445.7M65.8 442V433.6M67 442V448.5M69.8 442V426.9M73.6 442V430.8M74.2 442V449.4M74.9 442V437.4M77.1 442V446.6M77.7 442V454.3M78 442V436.3M80.2 442V449.9M83.6 442V439.2M84 442V439.1M84.6 442V434.4M89.9 442V446.5M90.5 442V439.2M94 442V445.9M94.3 442V436M98.1 442V434.1M98.7 442V437.5M99.3 442V457.5M100.6 442V445.6M101.5 442V445.8M107.5 442V439.1M108.7 442V447.9M109.4 442V448M112.2 442V445.8M114.7 442V446.9M116.6 442V430.4M117.2 442V445.9M118.1 442V436.3M119.4 442V438.5M121 442V436.3M128.5 442V431.5M130.7 442V444.7M131.6 442V449M132.2 442V437.9M133.5 442V438.7M133.8 442V437.9M134.1 442V438.8M134.7 442V432.3M136.3 442V456.7M141 442V447.8M145.7 442V438.6M146.3 442V445.5M147 442V434.9M147.3 442V446.3M147.9 442V445M148.5 442V427M149.8 442V444.7M152 442V438.6M153.2 442V445.8M155.1 442V446M155.8 442V438.8M157.6 442V446.6M157.9 442V434.6M160.5 442V435.3M168.3 442V445.1M168.6 442V445.1M169.9 442V438.7M175.5 442V438.6M177.4 442V447.8M178.6 442V448.1M180.8 442V439.1M181.5 442V453.1M183.3 442V429.4M185.2 442V451.4M185.5 442V437M186.5 442V445.1M187.1 442V452.5M28 442V449M30 442V452M45 442V432M52 442V448M56 442V428M61 442V430M75 442V448M80 442V446M83 442V431M90 442V451M100 442V433M108 442V433M115 442V428M123 442V447M129 442V448M131 442V430M135 442V428M140 442V451M145 442V430M150 442V447M152 442V455.6M156 442V430M163 442V435M170 442V448M176 442V437M180 442V446" stroke="#4f8c5e" stroke-width="0.6" fill="none"/>
<rect x="24.8" y="439.90" width="164.3" height="4.2" fill="#2a7a3c"/>
<path d="M25.6 442.4h0M26 440.6h0M26.3 443.4h0M26.6 443.2h0M26.9 443.4h0M27.2 443.8h0M27.8 442.7h0M28.5 441.9h0M28.8 444.4h0M29.1 443.4h0M29.4 442.2h0M29.7 442.6h0M30.3 444.6h0M30.7 441.7h0M31.3 441.3h0M31.6 441.8h0M31.9 441.2h0M32.5 441.6h0M32.9 440.9h0M33.2 441.8h0M33.5 442.2h0M34.1 442.4h0M35 443.7h0M35.7 443.7h0M36 444.4h0M36.9 443.9h0M37.2 440.6h0M37.6 443.2h0M38.5 442.6h0M39.4 440.7h0M39.8 442.1h0M40.1 441h0M40.4 441.1h0M41 442.4h0M41.3 442.5h0M41.6 440.8h0M41.9 439.5h0M42.3 440.7h0M42.6 443.2h0M42.9 442.1h0M43.2 441h0M43.5 442h0M44.1 440.4h0M44.8 442.2h0M45.4 442.4h0M45.7 440.1h0M46 443.1h0M46.3 440.9h0M47 442.9h0M47.6 440.9h0M47.9 442.3h0M48.2 442.1h0M48.5 440.1h0M48.8 439.7h0M49.2 442.6h0M49.5 441.9h0M49.8 442.7h0M50.7 443.3h0M51.4 442.1h0M51.7 441.6h0M52 443.5h0M52.9 443.6h0M53.2 441.9h0M53.5 440h0M53.9 442.2h0M54.2 441h0M54.5 442.2h0M54.8 440.2h0M55.1 443.5h0M55.4 441.6h0M55.7 441h0M56.1 441.2h0M56.4 444.2h0M56.7 442.7h0M57 443.8h0M57.3 441.3h0M57.6 442.9h0M57.9 443h0M58.2 440.3h0M58.6 442.3h0M59.5 440.3h0M59.8 442.9h0M60.1 444.1h0M60.4 440h0M60.8 440.3h0M61.1 441.5h0M61.4 439.6h0M61.7 444.1h0M62 444.1h0M62.3 442.3h0M63 439.9h0M63.6 442.9h0M63.9 440.9h0M64.2 442.8h0M64.5 441.5h0M64.8 441.6h0M65.1 442.6h0M65.5 442.2h0M66.1 441.9h0M66.4 441.7h0M66.7 441.7h0M67.3 441.7h0M67.7 440.2h0M68 443.3h0M68.3 440.6h0M68.6 442.3h0M68.9 441.7h0M69.2 441.8h0M69.5 441.1h0M70.2 442.9h0M70.5 442.5h0M70.8 440.8h0M71.1 442.2h0M71.4 440.8h0M71.7 443.1h0M72 443.3h0M72.4 443.3h0M72.7 444.5h0M73 441.3h0M73.3 441.9h0M73.9 441h0M74.6 441.9h0M75.2 442.3h0M75.5 440.7h0M75.8 443.1h0M76.1 443h0M76.4 443.7h0M76.7 441.4h0M77.4 442.4h0M78.3 442.2h0M78.6 443h0M78.9 441.8h0M79.3 444.3h0M79.6 440.6h0M79.9 440.6h0M80.5 442.6h0M80.8 442.1h0M81.1 442.2h0M81.4 439.6h0M81.8 442.3h0M82.1 442.1h0M82.4 441.6h0M82.7 439.8h0M83 443.9h0M83.3 443.2h0M84.3 440.1h0M84.9 443.4h0M85.2 442.2h0M85.5 443.7h0M85.8 443.8h0M86.2 442.9h0M86.5 439.7h0M86.8 442.2h0M87.1 440.3h0M87.4 443.1h0M87.7 442.2h0M88 441.4h0M88.3 442.3h0M88.7 442.5h0M89 440.6h0M89.3 442h0M89.6 441.1h0M90.2 442.5h0M90.9 443h0M91.2 441.4h0M91.5 440.5h0M91.8 443h0M92.1 441.3h0M92.4 439.7h0M92.7 441.3h0M93 443.8h0M93.4 442.3h0M93.7 441.4h0M94.6 441.9h0M94.9 442.7h0M95.2 443.5h0M95.6 440.9h0M95.9 441.1h0M96.2 443.3h0M96.5 443.6h0M96.8 440.7h0M97.1 442.2h0M97.4 444.3h0M97.8 442.3h0M98.4 441.5h0M99 442.3h0M99.6 443h0M99.9 443.6h0M100.3 441.7h0M100.9 442.5h0M101.2 441.8h0M101.8 440.7h0M102.1 441.7h0M102.5 443.8h0M102.8 443.4h0M103.1 443.5h0M103.4 443.5h0M103.7 442.6h0M104 443.1h0M104.3 444.6h0M104.6 442.7h0M105 440.2h0M105.3 442h0M105.6 440.9h0M105.9 443.5h0M106.2 441.5h0M106.5 441.6h0M106.8 441h0M107.2 439.7h0M107.8 440.2h0M108.1 442.1h0M108.4 443.3h0M109 441.6h0M109.7 444.2h0M110 442.1h0M110.3 441.5h0M110.6 442.6h0M110.9 441h0M111.2 444.3h0M111.5 440.3h0M111.9 442.5h0M112.5 443.5h0M112.8 443h0M113.1 441.1h0M113.4 440.3h0M113.7 444h0M114.1 442.4h0M114.4 440.2h0M115 442.8h0M115.3 441.5h0M115.6 443.6h0M115.9 443.1h0M116.2 444.2h0M116.9 441h0M117.5 441.6h0M117.8 443h0M118.4 443.3h0M118.8 440.7h0M119.1 440.2h0M119.7 442.2h0M120 442.8h0M120.3 439.7h0M120.6 441.9h0M121.3 443.6h0M121.6 441.8h0M121.9 442.8h0M122.2 439.6h0M122.5 441.6h0M122.8 441h0M123.1 441.7h0M123.5 441.8h0M123.8 441.2h0M124.1 442.8h0M124.4 441.4h0M124.7 441.7h0M125 441.8h0M125.3 440.3h0M125.7 443.3h0M126 441.3h0M126.3 441.9h0M126.6 442.2h0M126.9 441.8h0M127.2 442.2h0M127.5 440.2h0M127.8 442.8h0M128.2 443.3h0M128.8 440.9h0M129.1 443.8h0M129.4 444.4h0M129.7 441.1h0M130 440.8h0M130.4 441.9h0M131 443h0M131.3 444.2h0M131.9 442.4h0M132.6 444.4h0M132.9 441.1h0M133.2 444h0M134.4 444.1h0M135.1 443.2h0M135.4 443.3h0M135.7 441.8h0M136 440.8h0M136.6 441.9h0M136.9 442.2h0M137.3 440.3h0M137.6 440.5h0M137.9 442.5h0M138.2 441h0M138.5 441.4h0M138.8 442.6h0M139.1 442.6h0M139.4 440.1h0M139.8 443.5h0M140.1 442.8h0M140.4 441.6h0M140.7 441.1h0M141.3 441.4h0M141.6 442.1h0M142 442.9h0M142.3 440.5h0M142.6 440h0M142.9 441.4h0M143.2 443h0M143.5 442.8h0M143.8 440.6h0M144.2 443h0M144.5 441.8h0M144.8 442.1h0M145.1 444.1h0M145.4 442.9h0M146 442h0M146.7 441.3h0M147.6 441.8h0M148.2 439.9h0M148.9 440.7h0M149.2 439.9h0M149.5 440.3h0M150.1 442.5h0M150.4 441.7h0M150.7 441.6h0M151 442.7h0M151.4 443.2h0M151.7 439.7h0M152.3 440.6h0M152.6 443.7h0M152.9 442.9h0M153.6 442.5h0M153.9 440.8h0M154.2 441.8h0M154.5 443h0M154.8 440.1h0M155.4 443h0M156.1 441.9h0M156.4 443h0M156.7 441.2h0M157 440.4h0M157.3 442.5h0M158.3 442.6h0M158.6 444h0M158.9 443.2h0M159.2 441.8h0M159.5 443.4h0M159.8 440.9h0M160.1 441h0M160.8 443.9h0M161.1 442.4h0M161.4 443.2h0M161.7 442.5h0M162 442.1h0M162.3 440.7h0M162.6 442.8h0M163 442h0M163.3 441.7h0M163.6 441.1h0M163.9 442h0M164.2 443.6h0M164.5 440.6h0M164.8 441.6h0M165.2 444.6h0M165.5 439.4h0M165.8 442h0M166.1 442h0M166.4 443.1h0M166.7 439.9h0M167 442.4h0M167.4 441.8h0M167.7 443.5h0M168 444.6h0M168.9 443.7h0M169.2 443.1h0M169.5 441.7h0M170.2 441.8h0M170.5 440.9h0M170.8 441.2h0M171.1 442.2h0M171.4 440.7h0M171.7 442.6h0M172.1 441.8h0M172.4 442.2h0M172.7 442.7h0M173 441.3h0M173.3 439.6h0M173.6 441.5h0M173.9 443.6h0M174.2 444.1h0M174.6 440.9h0M174.9 440.5h0M175.2 441.8h0M175.8 441.4h0M176.1 443.2h0M176.4 442.2h0M176.8 442.5h0M177.1 444.1h0M177.7 441.4h0M178 441.3h0M178.3 439.9h0M179 444h0M179.3 442.1h0M179.6 439.9h0M179.9 440.5h0M180.2 441.5h0M180.5 441.3h0M181.1 443.9h0M181.8 441.9h0M182.1 441.2h0M182.4 442.6h0M182.7 442.6h0M183 442.2h0M183.7 442.2h0M184 444h0M184.3 441.5h0M184.6 439.4h0M184.9 444.4h0M185.8 444h0M186.2 440.6h0M186.8 440.6h0M187.4 441.9h0M187.7 443.9h0M188 442.5h0M188.4 443.2h0" stroke="#2a7a3c" stroke-width="1.90" stroke-linecap="round" fill="none"/>
<path d="M27.5 446h0M28.2 439h0M30 435.9h0M31 435.8h0M32.2 430.7h0M33.8 449.7h0M34.4 445.4h0M34.7 445.1h0M35.4 453.2h0M36.3 445.7h0M36.6 454.8h0M37.9 453.7h0M38.2 446h0M38.8 438.7h0M39.1 445.1h0M40.7 451.3h0M43.8 445.2h0M44.5 445.2h0M45.1 435.4h0M46.6 434.8h0M47.3 433.5h0M50.1 452.2h0M50.4 435.9h0M51 446.7h0M52.3 438.6h0M52.6 436.9h0M58.9 445.8h0M59.2 448.1h0M62.6 450.6h0M63.3 445.7h0M65.8 433.6h0M67 448.5h0M69.8 426.9h0M73.6 430.8h0M74.2 449.4h0M74.9 437.4h0M77.1 446.6h0M77.7 454.3h0M78 436.3h0M80.2 449.9h0M83.6 439.2h0M84 439.1h0M84.6 434.4h0M89.9 446.5h0M90.5 439.2h0M94 445.9h0M94.3 436h0M98.1 434.1h0M98.7 437.5h0M99.3 457.5h0M100.6 445.6h0M101.5 445.8h0M107.5 439.1h0M108.7 447.9h0M109.4 448h0M112.2 445.8h0M114.7 446.9h0M116.6 430.4h0M117.2 445.9h0M118.1 436.3h0M119.4 438.5h0M121 436.3h0M128.5 431.5h0M130.7 444.7h0M131.6 449h0M132.2 437.9h0M133.5 438.7h0M133.8 437.9h0M134.1 438.8h0M134.7 432.3h0M136.3 456.7h0M141 447.8h0M145.7 438.6h0M146.3 445.5h0M147 434.9h0M147.3 446.3h0M147.9 445h0M148.5 427h0M149.8 444.7h0M152 438.6h0M153.2 445.8h0M155.1 446h0M155.8 438.8h0M157.6 446.6h0M157.9 434.6h0M160.5 435.3h0M168.3 445.1h0M168.6 445.1h0M169.9 438.7h0M175.5 438.6h0M177.4 447.8h0M178.6 448.1h0M180.8 439.1h0M181.5 453.1h0M183.3 429.4h0M185.2 451.4h0M185.5 437h0M186.5 445.1h0M187.1 452.5h0M28 449h0M30 452h0M45 432h0M52 448h0M56 428h0M61 430h0M75 448h0M80 446h0M83 431h0M90 451h0M100 433h0M108 433h0M115 428h0M123 447h0M129 448h0M131 430h0M135 428h0M140 451h0M145 430h0M150 447h0M152 455.6h0M156 430h0M163 435h0M170 448h0M176 437h0M180 446h0" stroke="#2b5a34" stroke-width="1.90" stroke-linecap="round" fill="none"/>
<path d="M130.5 442V521.9" stroke="#985540" stroke-width="0.8" fill="none"/>
<path d="M130.5 521.9h0" stroke="#4a2a1e" stroke-width="2.0" stroke-linecap="round" fill="none"/>
<path d="M182.0 420.5V527.5" class="bl"/>
<path d="M187.6 420.5V527.5" class="bl"/>
</g>
<rect x="17.5" y="420.5" width="179.0" height="107.0" fill="none" stroke="#777" stroke-width="0.9"/>
<path d="M16.2 429.6H17.5" class="tk"/><text x="15.0" y="431.0" text-anchor="end" class="t">0.2</text>
<path d="M16.2 441.9H17.5" class="tk"/><text x="15.0" y="443.3" text-anchor="end" class="t">0.0</text>
<path d="M16.2 454.2H17.5" class="tk"/><text x="15.0" y="455.6" text-anchor="end" class="t">−0.2</text>
<path d="M16.2 466.5H17.5" class="tk"/><text x="15.0" y="467.9" text-anchor="end" class="t">−0.4</text>
<path d="M16.2 478.8H17.5" class="tk"/><text x="15.0" y="480.2" text-anchor="end" class="t">−0.6</text>
<path d="M16.2 491.1H17.5" class="tk"/><text x="15.0" y="492.5" text-anchor="end" class="t">−0.8</text>
<path d="M16.2 503.4H17.5" class="tk"/><text x="15.0" y="504.8" text-anchor="end" class="t">−1.0</text>
<path d="M16.2 515.7H17.5" class="tk"/><text x="15.0" y="517.1" text-anchor="end" class="t">−1.2</text>
<path d="M24.9 527.5v1.3" class="tk"/><text transform="translate(26.1,529.7) rotate(-90)" text-anchor="end" class="t xt">15:18</text>
<path d="M26.8 527.5v1.3" class="tk"/><text transform="translate(28.1,529.7) rotate(-90)" text-anchor="end" class="t xt">15:18</text>
<path d="M38.6 527.5v1.3" class="tk"/><text transform="translate(39.9,529.7) rotate(-90)" text-anchor="end" class="t xt">15:18</text>
<path d="M48 527.5v1.3" class="tk"/><text transform="translate(49.2,529.7) rotate(-90)" text-anchor="end" class="t xt">15:18</text>
<path d="M52.7 527.5v1.3" class="tk"/><text transform="translate(54.0,529.7) rotate(-90)" text-anchor="end" class="t xt">15:18</text>
<path d="M57.5 527.5v1.3" class="tk"/><text transform="translate(58.8,529.7) rotate(-90)" text-anchor="end" class="t xt">15:18</text>
<path d="M66.4 527.5v1.3" class="tk"/><text transform="translate(67.7,529.7) rotate(-90)" text-anchor="end" class="t xt">15:18</text>
<path d="M75.8 527.5v1.3" class="tk"/><text transform="translate(77.0,529.7) rotate(-90)" text-anchor="end" class="t xt">15:18</text>
<path d="M83.4 527.5v1.3" class="tk"/><text transform="translate(84.7,529.7) rotate(-90)" text-anchor="end" class="t xt">15:18</text>
<path d="M92.4 527.5v1.3" class="tk"/><text transform="translate(93.7,529.7) rotate(-90)" text-anchor="end" class="t xt">15:18</text>
<path d="M99.9 527.5v1.3" class="tk"/><text transform="translate(101.2,529.7) rotate(-90)" text-anchor="end" class="t xt">15:18</text>
<path d="M102 527.5v1.3" class="tk"/><text transform="translate(103.2,529.7) rotate(-90)" text-anchor="end" class="t xt">15:18</text>
<path d="M106.2 527.5v1.3" class="tk"/><text transform="translate(107.5,529.7) rotate(-90)" text-anchor="end" class="t xt">15:18</text>
<path d="M111.2 527.5v1.3" class="tk"/><text transform="translate(112.5,529.7) rotate(-90)" text-anchor="end" class="t xt">15:18</text>
<path d="M116.1 527.5v1.3" class="tk"/><text transform="translate(117.3,529.7) rotate(-90)" text-anchor="end" class="t xt">15:18</text>
<path d="M121.8 527.5v1.3" class="tk"/><text transform="translate(123.0,529.7) rotate(-90)" text-anchor="end" class="t xt">15:18</text>
<path d="M131.8 527.5v1.3" class="tk"/><text transform="translate(133.1,529.7) rotate(-90)" text-anchor="end" class="t xt">15:18</text>
<path d="M136.7 527.5v1.3" class="tk"/><text transform="translate(137.9,529.7) rotate(-90)" text-anchor="end" class="t xt">15:18</text>
<path d="M142.7 527.5v1.3" class="tk"/><text transform="translate(143.9,529.7) rotate(-90)" text-anchor="end" class="t xt">15:18</text>
<path d="M148.4 527.5v1.3" class="tk"/><text transform="translate(149.7,529.7) rotate(-90)" text-anchor="end" class="t xt">15:18</text>
<path d="M157.6 527.5v1.3" class="tk"/><text transform="translate(158.8,529.7) rotate(-90)" text-anchor="end" class="t xt">15:18</text>
<path d="M162 527.5v1.3" class="tk"/><text transform="translate(163.2,529.7) rotate(-90)" text-anchor="end" class="t xt">15:18</text>
<path d="M166.5 527.5v1.3" class="tk"/><text transform="translate(167.8,529.7) rotate(-90)" text-anchor="end" class="t xt">15:18</text>
<path d="M172 527.5v1.3" class="tk"/><text transform="translate(173.2,529.7) rotate(-90)" text-anchor="end" class="t xt">15:18</text>
<path d="M175.7 527.5v1.3" class="tk"/><text transform="translate(176.9,529.7) rotate(-90)" text-anchor="end" class="t xt">15:18</text>
<path d="M181.9 527.5v1.3" class="tk"/><text transform="translate(183.2,529.7) rotate(-90)" text-anchor="end" class="t xt">20 13:41</text>
<path d="M188.1 527.5v1.3" class="tk"/><text transform="translate(189.3,529.7) rotate(-90)" text-anchor="end" class="t xt">20 13:43</text>
<text x="107.0" y="418.6" text-anchor="middle" class="ti">AGN_2021-8-20 13:41</text>
<text x="107.0" y="547.5" text-anchor="middle" class="t">datetime</text>
<text transform="translate(5.3,474.0) rotate(-90)" text-anchor="middle" class="t">BS_volume</text>
<rect x="18.5" y="421.5" width="45.0" height="10.9" fill="#fff" fill-opacity="0.95" stroke="#d8d8d8" stroke-width="0.4" rx="0.8"/>
<path d="M20.1 424.4h6.2" class="bl"/><path d="M20.1 429.7h6.2" class="th"/>
<text x="29.5" y="425.6" class="t">2021-8-20 13:41</text>
<text x="29.5" y="430.9" class="t">anomalous volumes</text>
<clipPath id="cp8"><rect x="219.5" y="420.5" width="179.0" height="107.0"/></clipPath>
<g clip-path="url(#cp8)">
<rect x="231" y="420.5" width="5.0" height="107.0" fill="#fef7fa"/>
<rect x="246" y="420.5" width="5.0" height="107.0" fill="#fef7fa"/>
<rect x="285" y="420.5" width="5.0" height="107.0" fill="#fef7fa"/>
<rect x="295" y="420.5" width="5.0" height="107.0" fill="#fef7fa"/>
<rect x="311" y="420.5" width="5.0" height="107.0" fill="#fef7fa"/>
<rect x="326" y="420.5" width="8.0" height="107.0" fill="#fef7fa"/>
<rect x="374" y="420.5" width="5.0" height="107.0" fill="#fef7fa"/>
<rect x="227" y="489" width="164.0" height="15.0" fill="#dff9ef"/>
<rect x="250" y="488" width="50.0" height="18.0" fill="#dff9ef"/>
<rect x="310" y="488" width="25.0" height="19.0" fill="#dff9ef"/>
<path d="M227.6 483.6H390.4" class="th" style="stroke:#dcd68e"/>
<path d="M227.6 512.7H390.4" class="th" style="stroke:#dcd68e"/>
<path d="M228.3 497.8V495.1M228.9 497.8V501.5M229.2 497.8V502M230.5 497.8V494.5M230.8 497.8V501.5M231.1 497.8V502.5M231.7 497.8V504M237 497.8V505.9M238.3 497.8V489.2M238.6 497.8V502.9M239.6 497.8V494.2M239.9 497.8V501M241.8 497.8V501.4M244.9 497.8V501.2M247.4 497.8V494.1M247.7 497.8V491.9M251.8 497.8V490.6M252.4 497.8V492.2M253 497.8V495M254.9 497.8V494.5M255.5 497.8V494.3M257.4 497.8V513.6M257.7 497.8V493.2M259.6 497.8V494.8M260.9 497.8V495M261.5 497.8V490.4M265 497.8V494.4M269.3 497.8V501M270.3 497.8V500.7M271.8 497.8V488.3M273.1 497.8V500.7M273.4 497.8V488M276.6 497.8V495M279.4 497.8V493.6M279.7 497.8V486.5M280.6 497.8V493.6M281.3 497.8V508.8M281.9 497.8V501M283.4 497.8V494M283.8 497.8V490.5M285.3 497.8V509.9M287.8 497.8V491.3M288.8 497.8V501.2M292.2 497.8V505.6M293.8 497.8V494.2M295.7 497.8V493.7M296.3 497.8V492.7M298.5 497.8V490.3M300.1 497.8V494.9M301.9 497.8V495M304.5 497.8V500.6M306 497.8V501.8M307 497.8V495.1M309.2 497.8V502.7M309.8 497.8V494.3M310.7 497.8V493.4M311.4 497.8V494.1M312.6 497.8V501.1M313.5 497.8V501.4M313.9 497.8V504.2M317.6 497.8V494.7M318.6 497.8V500.8M318.9 497.8V503M319.8 497.8V495.1M320.1 497.8V500.9M322 497.8V494.3M323.9 497.8V501.9M324.2 497.8V501M326.4 497.8V487.1M327.7 497.8V501.2M328.3 497.8V500.9M331.7 497.8V500.7M334.2 497.8V501M335.2 497.8V495.1M336.1 497.8V501.3M340.5 497.8V509.2M343.3 497.8V501M344.6 497.8V501.3M345.5 497.8V500.6M347.1 497.8V502.3M347.7 497.8V495M350.2 497.8V506.7M350.5 497.8V493.8M351.8 497.8V501.3M352.1 497.8V500.5M353.4 497.8V500.6M354 497.8V504.3M356.5 497.8V501.2M357.4 497.8V491.6M359.6 497.8V500.7M362.1 497.8V500.8M362.5 497.8V495.1M362.8 497.8V500.6M366.2 497.8V501M367.2 497.8V501.5M368.7 497.8V506.9M370 497.8V501.2M370.6 497.8V501.4M370.9 497.8V507.4M371.5 497.8V502.5M372.8 497.8V500.6M373.4 497.8V494M376.2 497.8V495M376.9 497.8V508.9M381.6 497.8V504.9M382.8 497.8V493.2M385 497.8V494.2M386.6 497.8V495M386.9 497.8V494.9M388.2 497.8V490.1M388.5 497.8V495M228.5 497.8V484.2M232 497.8V492M240 497.8V505M246 497.8V488M250 497.8V503M255 497.8V488M261 497.8V506M265 497.8V487M270 497.8V505M275 497.8V490M292 497.8V505M297 497.8V507M302 497.8V487M306 497.8V506M322 497.8V505M327 497.8V509M335 497.8V489M342 497.8V505M350 497.8V506M358 497.8V510M362 497.8V490M370 497.8V492M384 497.8V506M388 497.8V488" stroke="#4f8c5e" stroke-width="0.6" fill="none"/>
<rect x="226.8" y="495.70" width="164.3" height="4.2" fill="#2a7a3c"/>
<path d="M227.6 496.9h0M228 498.5h0M228.6 497.3h0M229.5 498.7h0M229.8 499.4h0M230.2 498.8h0M231.4 495.2h0M232 496.5h0M232.3 499h0M232.7 497.1h0M233 498.5h0M233.3 498h0M233.6 497.5h0M233.9 499.1h0M234.2 498.6h0M234.5 497.5h0M234.9 498.1h0M235.2 496.6h0M235.5 500h0M235.8 497h0M236.1 495.8h0M236.4 495.3h0M236.7 498.2h0M237.4 497.9h0M237.7 499.8h0M238 498.3h0M238.9 497.8h0M239.2 495.9h0M240.2 497.4h0M240.5 496.9h0M240.8 497h0M241.1 500.2h0M241.4 497.1h0M242.1 497.8h0M242.4 497.3h0M242.7 495.9h0M243 499.4h0M243.3 495.6h0M243.6 499.4h0M243.9 498.1h0M244.3 497.4h0M244.6 496.3h0M245.2 497.1h0M245.5 496.1h0M245.8 496.6h0M246.1 498.8h0M246.5 497.3h0M246.8 499.3h0M247.1 498.3h0M248 495.2h0M248.3 498.6h0M248.6 496.9h0M249 498.1h0M249.3 498h0M249.6 496.8h0M249.9 496.8h0M250.2 495.8h0M250.5 499.2h0M250.8 497h0M251.2 497.8h0M251.5 499.3h0M252.1 498.6h0M252.7 499.3h0M253.4 498.3h0M253.7 496h0M254 496h0M254.3 498.5h0M254.6 498h0M255.2 499.2h0M255.9 498.3h0M256.2 496.8h0M256.5 498.2h0M256.8 499.3h0M257.1 498.4h0M258.1 499.2h0M258.4 498.2h0M258.7 497.8h0M259 499.4h0M259.3 497.9h0M259.9 496.9h0M260.2 495.6h0M260.6 498.7h0M261.2 497.2h0M261.8 499.3h0M262.1 499.4h0M262.4 497.1h0M262.8 498.6h0M263.1 497.9h0M263.4 496.5h0M263.7 499.9h0M264 498.1h0M264.3 498.9h0M264.6 498.3h0M265.3 495.3h0M265.6 500h0M265.9 499h0M266.2 496.7h0M266.5 496.2h0M266.8 495.4h0M267.1 496.7h0M267.5 498.6h0M267.8 498.1h0M268.1 498.5h0M268.4 497.1h0M268.7 498.3h0M269 496.5h0M269.7 497.4h0M270 499.5h0M270.6 496.6h0M270.9 496.7h0M271.2 495.6h0M271.5 497.9h0M272.2 499.3h0M272.5 500.4h0M272.8 498.4h0M273.7 497h0M274 497.1h0M274.4 496.7h0M274.7 498.7h0M275 497.6h0M275.3 498.4h0M275.6 496.6h0M275.9 498.7h0M276.2 495.8h0M276.9 495.7h0M277.2 500.3h0M277.5 500.3h0M277.8 498.1h0M278.1 499.4h0M278.4 497.7h0M278.7 500.2h0M279.1 497.9h0M280 495.7h0M280.3 496.6h0M280.9 497.9h0M281.6 496.2h0M282.2 500.2h0M282.5 498.6h0M282.8 497.5h0M283.1 497h0M284.1 499.6h0M284.4 497.6h0M284.7 497h0M285 495.4h0M285.6 495.6h0M286 500.4h0M286.3 498.3h0M286.6 497.5h0M286.9 496.9h0M287.2 498.1h0M287.5 497.7h0M288.2 497.6h0M288.5 498.4h0M289.1 498.3h0M289.4 499.3h0M289.7 500h0M290 496.8h0M290.3 496h0M290.7 498.5h0M291 497h0M291.3 498h0M291.6 498.7h0M291.9 496.4h0M292.5 499.4h0M292.9 496.5h0M293.2 496.9h0M293.5 498.4h0M294.1 496.6h0M294.4 495.1h0M294.7 499.5h0M295 499.5h0M295.4 497h0M296 496.7h0M296.6 495.9h0M296.9 499.3h0M297.2 496.7h0M297.6 496.2h0M297.9 496.7h0M298.2 499.1h0M298.8 495.6h0M299.1 499.1h0M299.4 496h0M299.8 499.3h0M300.4 497.6h0M300.7 497.7h0M301 496.1h0M301.3 497.8h0M301.6 500.1h0M302.3 499.1h0M302.6 498h0M302.9 500.2h0M303.2 498.4h0M303.5 499.9h0M303.8 496.2h0M304.1 497.4h0M304.8 495.6h0M305.1 499.3h0M305.4 495.2h0M305.7 497.8h0M306.3 497.8h0M306.6 500.1h0M307.3 497.1h0M307.6 498.6h0M307.9 495.5h0M308.2 498.2h0M308.5 495.9h0M308.8 500.4h0M309.5 495.1h0M310.1 497.8h0M310.4 496.1h0M311 497.2h0M311.7 500.4h0M312 499.9h0M312.3 499.5h0M312.9 497.6h0M313.2 495.9h0M314.2 497.2h0M314.5 499.8h0M314.8 497.7h0M315.1 495.9h0M315.4 495.5h0M315.7 496.9h0M316.1 498.7h0M316.4 499.5h0M316.7 499.5h0M317 500.2h0M317.3 497h0M317.9 497.8h0M318.2 495.1h0M319.2 496.2h0M319.5 496.8h0M320.4 499.7h0M320.8 499.6h0M321.1 497.7h0M321.4 497.1h0M321.7 495.3h0M322.3 498.4h0M322.6 496.3h0M323 496h0M323.3 496.6h0M323.6 499.8h0M324.5 497.6h0M324.8 498.5h0M325.1 498.3h0M325.5 498.2h0M325.8 497h0M326.1 495.9h0M326.7 496.5h0M327 499.4h0M327.3 498.9h0M328 499.6h0M328.6 497.9h0M328.9 499.1h0M329.2 499.5h0M329.5 497.2h0M329.8 497.1h0M330.2 498.2h0M330.5 497.2h0M330.8 499.6h0M331.1 498.6h0M331.4 499.5h0M332 498h0M332.4 498.7h0M332.7 495.8h0M333 498.9h0M333.3 497.5h0M333.6 497h0M333.9 495.2h0M334.6 498.5h0M334.9 497.4h0M335.5 497.2h0M335.8 495.8h0M336.4 498.5h0M336.7 497.7h0M337.1 498.6h0M337.4 497.6h0M337.7 495.2h0M338 498.2h0M338.3 496.7h0M338.6 497.3h0M338.9 498.7h0M339.3 495.3h0M339.6 498.8h0M339.9 495.3h0M340.2 498.8h0M340.8 497.3h0M341.1 498.6h0M341.4 498.7h0M341.8 498.8h0M342.1 498.2h0M342.4 497.2h0M342.7 498.8h0M343 497.4h0M343.6 497.1h0M344 500h0M344.3 500.4h0M344.9 497.1h0M345.2 499.9h0M345.8 498.5h0M346.2 498.2h0M346.5 497.3h0M346.8 495.3h0M347.4 499.2h0M348 498.5h0M348.3 499.2h0M348.7 500.2h0M349 496.2h0M349.3 498.1h0M349.6 499.3h0M349.9 499.5h0M350.9 499.3h0M351.2 495.1h0M351.5 497.3h0M352.4 498.4h0M352.7 496.6h0M353 497.4h0M353.7 499.1h0M354.3 495.6h0M354.6 498.2h0M354.9 498.5h0M355.2 498.1h0M355.6 498h0M355.9 497.4h0M356.2 496.7h0M356.8 495.6h0M357.1 495.9h0M357.8 498.7h0M358.1 495.9h0M358.4 498.9h0M358.7 497.2h0M359 495.2h0M359.3 496.4h0M359.9 496.6h0M360.3 498h0M360.6 497.8h0M360.9 498.9h0M361.2 495.6h0M361.5 499.6h0M361.8 497.2h0M363.1 495.6h0M363.4 497.2h0M363.7 496.2h0M364 498h0M364.3 497.6h0M364.6 496.9h0M365 498.6h0M365.3 500.5h0M365.6 497.3h0M365.9 497.1h0M366.5 495.7h0M366.8 497.2h0M367.5 498h0M367.8 496.2h0M368.1 495.5h0M368.4 497.8h0M369 498.3h0M369.4 498.8h0M369.7 498.3h0M370.3 496.1h0M371.2 495.4h0M371.9 498.8h0M372.2 496.2h0M372.5 498.7h0M373.1 495.6h0M373.7 497.2h0M374.1 500.3h0M374.4 499.4h0M374.7 497h0M375 500.3h0M375.3 496.7h0M375.6 495.2h0M375.9 498h0M376.6 495.3h0M377.2 495.5h0M377.5 498.6h0M377.8 498.8h0M378.1 496.4h0M378.4 495.2h0M378.8 497.3h0M379.1 497.2h0M379.4 496.1h0M379.7 500.4h0M380 497.5h0M380.3 498.9h0M380.6 499.2h0M381 498.1h0M381.3 495.3h0M381.9 496.6h0M382.2 496.1h0M382.5 497.4h0M383.1 497.4h0M383.5 496.5h0M383.8 498.5h0M384.1 499.9h0M384.4 496.9h0M384.7 499.9h0M385.3 497.6h0M385.7 496.3h0M386 498.7h0M386.3 499.1h0M387.2 499.5h0M387.5 497.9h0M387.8 496.5h0M388.8 495.6h0M389.1 496.3h0M389.4 496.7h0M389.7 495.8h0M390 498h0M390.4 499.7h0" stroke="#2a7a3c" stroke-width="1.90" stroke-linecap="round" fill="none"/>
<path d="M228.3 495.1h0M228.9 501.5h0M229.2 502h0M230.5 494.5h0M230.8 501.5h0M231.1 502.5h0M231.7 504h0M237 505.9h0M238.3 489.2h0M238.6 502.9h0M239.6 494.2h0M239.9 501h0M241.8 501.4h0M244.9 501.2h0M247.4 494.1h0M247.7 491.9h0M251.8 490.6h0M252.4 492.2h0M253 495h0M254.9 494.5h0M255.5 494.3h0M257.4 513.6h0M257.7 493.2h0M259.6 494.8h0M260.9 495h0M261.5 490.4h0M265 494.4h0M269.3 501h0M270.3 500.7h0M271.8 488.3h0M273.1 500.7h0M273.4 488h0M276.6 495h0M279.4 493.6h0M279.7 486.5h0M280.6 493.6h0M281.3 508.8h0M281.9 501h0M283.4 494h0M283.8 490.5h0M285.3 509.9h0M287.8 491.3h0M288.8 501.2h0M292.2 505.6h0M293.8 494.2h0M295.7 493.7h0M296.3 492.7h0M298.5 490.3h0M300.1 494.9h0M301.9 495h0M304.5 500.6h0M306 501.8h0M307 495.1h0M309.2 502.7h0M309.8 494.3h0M310.7 493.4h0M311.4 494.1h0M312.6 501.1h0M313.5 501.4h0M313.9 504.2h0M317.6 494.7h0M318.6 500.8h0M318.9 503h0M319.8 495.1h0M320.1 500.9h0M322 494.3h0M323.9 501.9h0M324.2 501h0M326.4 487.1h0M327.7 501.2h0M328.3 500.9h0M331.7 500.7h0M334.2 501h0M335.2 495.1h0M336.1 501.3h0M340.5 509.2h0M343.3 501h0M344.6 501.3h0M345.5 500.6h0M347.1 502.3h0M347.7 495h0M350.2 506.7h0M350.5 493.8h0M351.8 501.3h0M352.1 500.5h0M353.4 500.6h0M354 504.3h0M356.5 501.2h0M357.4 491.6h0M359.6 500.7h0M362.1 500.8h0M362.5 495.1h0M362.8 500.6h0M366.2 501h0M367.2 501.5h0M368.7 506.9h0M370 501.2h0M370.6 501.4h0M370.9 507.4h0M371.5 502.5h0M372.8 500.6h0M373.4 494h0M376.2 495h0M376.9 508.9h0M381.6 504.9h0M382.8 493.2h0M385 494.2h0M386.6 495h0M386.9 494.9h0M388.2 490.1h0M388.5 495h0M228.5 484.2h0M232 492h0M240 505h0M246 488h0M250 503h0M255 488h0M261 506h0M265 487h0M270 505h0M275 490h0M292 505h0M297 507h0M302 487h0M306 506h0M322 505h0M327 509h0M335 489h0M342 505h0M350 506h0M358 510h0M362 490h0M370 492h0M384 506h0M388 488h0" stroke="#2b5a34" stroke-width="1.90" stroke-linecap="round" fill="none"/>
<path d="M233.5 497.8V515.8M237.5 497.8V480.2M248.5 497.8V426.9M287.5 497.8V521.9M297.5 497.8V438M299.5 497.8V482.7M313.5 497.8V515M318.5 497.8V476.6M328.5 497.8V467.2M332.5 497.8V425.1M332.5 497.8V520.3M376.5 497.8V521.6" stroke="#985540" stroke-width="0.8" fill="none"/>
<path d="M233.5 515.8h0M237.5 480.2h0M248.5 426.9h0M287.5 521.9h0M297.5 438h0M299.5 482.7h0M313.5 515h0M318.5 476.6h0M328.5 467.2h0M332.5 425.1h0M332.5 520.3h0M376.5 521.6h0" stroke="#4a2a1e" stroke-width="2.0" stroke-linecap="round" fill="none"/>
<path d="M383.5 420.5V527.5" class="bl"/>
<path d="M390.2 420.5V527.5" class="bl"/>
</g>
<rect x="219.5" y="420.5" width="179.0" height="107.0" fill="none" stroke="#777" stroke-width="0.9"/>
<path d="M218.2 432.7H219.5" class="tk"/><text x="217.0" y="434.1" text-anchor="end" class="t">1.25</text>
<path d="M218.2 445.8H219.5" class="tk"/><text x="217.0" y="447.2" text-anchor="end" class="t">1.00</text>
<path d="M218.2 458.9H219.5" class="tk"/><text x="217.0" y="460.3" text-anchor="end" class="t">0.75</text>
<path d="M218.2 472.0H219.5" class="tk"/><text x="217.0" y="473.4" text-anchor="end" class="t">0.50</text>
<path d="M218.2 485.0H219.5" class="tk"/><text x="217.0" y="486.4" text-anchor="end" class="t">0.25</text>
<path d="M218.2 498.1H219.5" class="tk"/><text x="217.0" y="499.5" text-anchor="end" class="t">0.00</text>
<path d="M218.2 511.2H219.5" class="tk"/><text x="217.0" y="512.6" text-anchor="end" class="t">−0.25</text>
<path d="M218.2 524.2H219.5" class="tk"/><text x="217.0" y="525.6" text-anchor="end" class="t">−0.50</text>
<path d="M226.8 527.5v1.3" class="tk"/><text transform="translate(228.1,529.7) rotate(-90)" text-anchor="end" class="t xt">15:18</text>
<path d="M228.7 527.5v1.3" class="tk"/><text transform="translate(229.9,529.7) rotate(-90)" text-anchor="end" class="t xt">15:18</text>
<path d="M231 527.5v1.3" class="tk"/><text transform="translate(232.2,529.7) rotate(-90)" text-anchor="end" class="t xt">15:18</text>
<path d="M233.9 527.5v1.3" class="tk"/><text transform="translate(235.2,529.7) rotate(-90)" text-anchor="end" class="t xt">15:18</text>
<path d="M242.8 527.5v1.3" class="tk"/><text transform="translate(244.1,529.7) rotate(-90)" text-anchor="end" class="t xt">15:18</text>
<path d="M249.2 527.5v1.3" class="tk"/><text transform="translate(250.4,529.7) rotate(-90)" text-anchor="end" class="t xt">15:18</text>
<path d="M257.5 527.5v1.3" class="tk"/><text transform="translate(258.8,529.7) rotate(-90)" text-anchor="end" class="t xt">15:18</text>
<path d="M263.3 527.5v1.3" class="tk"/><text transform="translate(264.6,529.7) rotate(-90)" text-anchor="end" class="t xt">15:18</text>
<path d="M274 527.5v1.3" class="tk"/><text transform="translate(275.2,529.7) rotate(-90)" text-anchor="end" class="t xt">15:18</text>
<path d="M281 527.5v1.3" class="tk"/><text transform="translate(282.2,529.7) rotate(-90)" text-anchor="end" class="t xt">15:18</text>
<path d="M288.1 527.5v1.3" class="tk"/><text transform="translate(289.4,529.7) rotate(-90)" text-anchor="end" class="t xt">15:18</text>
<path d="M296.4 527.5v1.3" class="tk"/><text transform="translate(297.6,529.7) rotate(-90)" text-anchor="end" class="t xt">15:18</text>
<path d="M308.5 527.5v1.3" class="tk"/><text transform="translate(309.8,529.7) rotate(-90)" text-anchor="end" class="t xt">15:18</text>
<path d="M314.9 527.5v1.3" class="tk"/><text transform="translate(316.1,529.7) rotate(-90)" text-anchor="end" class="t xt">15:18</text>
<path d="M316.9 527.5v1.3" class="tk"/><text transform="translate(318.1,529.7) rotate(-90)" text-anchor="end" class="t xt">15:18</text>
<path d="M329.8 527.5v1.3" class="tk"/><text transform="translate(331.1,529.7) rotate(-90)" text-anchor="end" class="t xt">15:18</text>
<path d="M339.2 527.5v1.3" class="tk"/><text transform="translate(340.4,529.7) rotate(-90)" text-anchor="end" class="t xt">15:18</text>
<path d="M349.1 527.5v1.3" class="tk"/><text transform="translate(350.4,529.7) rotate(-90)" text-anchor="end" class="t xt">15:18</text>
<path d="M355.1 527.5v1.3" class="tk"/><text transform="translate(356.4,529.7) rotate(-90)" text-anchor="end" class="t xt">15:18</text>
<path d="M360.8 527.5v1.3" class="tk"/><text transform="translate(362.1,529.7) rotate(-90)" text-anchor="end" class="t xt">15:18</text>
<path d="M365.8 527.5v1.3" class="tk"/><text transform="translate(367.1,529.7) rotate(-90)" text-anchor="end" class="t xt">15:18</text>
<path d="M372 527.5v1.3" class="tk"/><text transform="translate(373.2,529.7) rotate(-90)" text-anchor="end" class="t xt">15:18</text>
<path d="M376.4 527.5v1.3" class="tk"/><text transform="translate(377.6,529.7) rotate(-90)" text-anchor="end" class="t xt">15:18</text>
<path d="M381.9 527.5v1.3" class="tk"/><text transform="translate(383.1,529.7) rotate(-90)" text-anchor="end" class="t xt">18 12:47</text>
<path d="M383.9 527.5v1.3" class="tk"/><text transform="translate(385.1,529.7) rotate(-90)" text-anchor="end" class="t xt">15:18</text>
<path d="M389.3 527.5v1.3" class="tk"/><text transform="translate(390.6,529.7) rotate(-90)" text-anchor="end" class="t xt">18 12:49</text>
<text x="309.0" y="418.6" text-anchor="middle" class="ti">AGN_2021-8-18 12:47</text>
<text x="309.0" y="547.5" text-anchor="middle" class="t">datetime</text>
<text transform="translate(205.7,474.0) rotate(-90)" text-anchor="middle" class="t">BS_volume</text>
<rect x="351.9" y="421.5" width="45.3" height="10.9" fill="#fff" fill-opacity="0.95" stroke="#d8d8d8" stroke-width="0.4" rx="0.8"/>
<path d="M353.9 424.4h6.2" class="bl"/><path d="M353.9 429.7h6.2" class="th"/>
<text x="363.2" y="425.6" class="t">2021-8-18 12:47</text>
<text x="363.2" y="430.9" class="t">anomalous volumes</text>
</svg></body></html>
